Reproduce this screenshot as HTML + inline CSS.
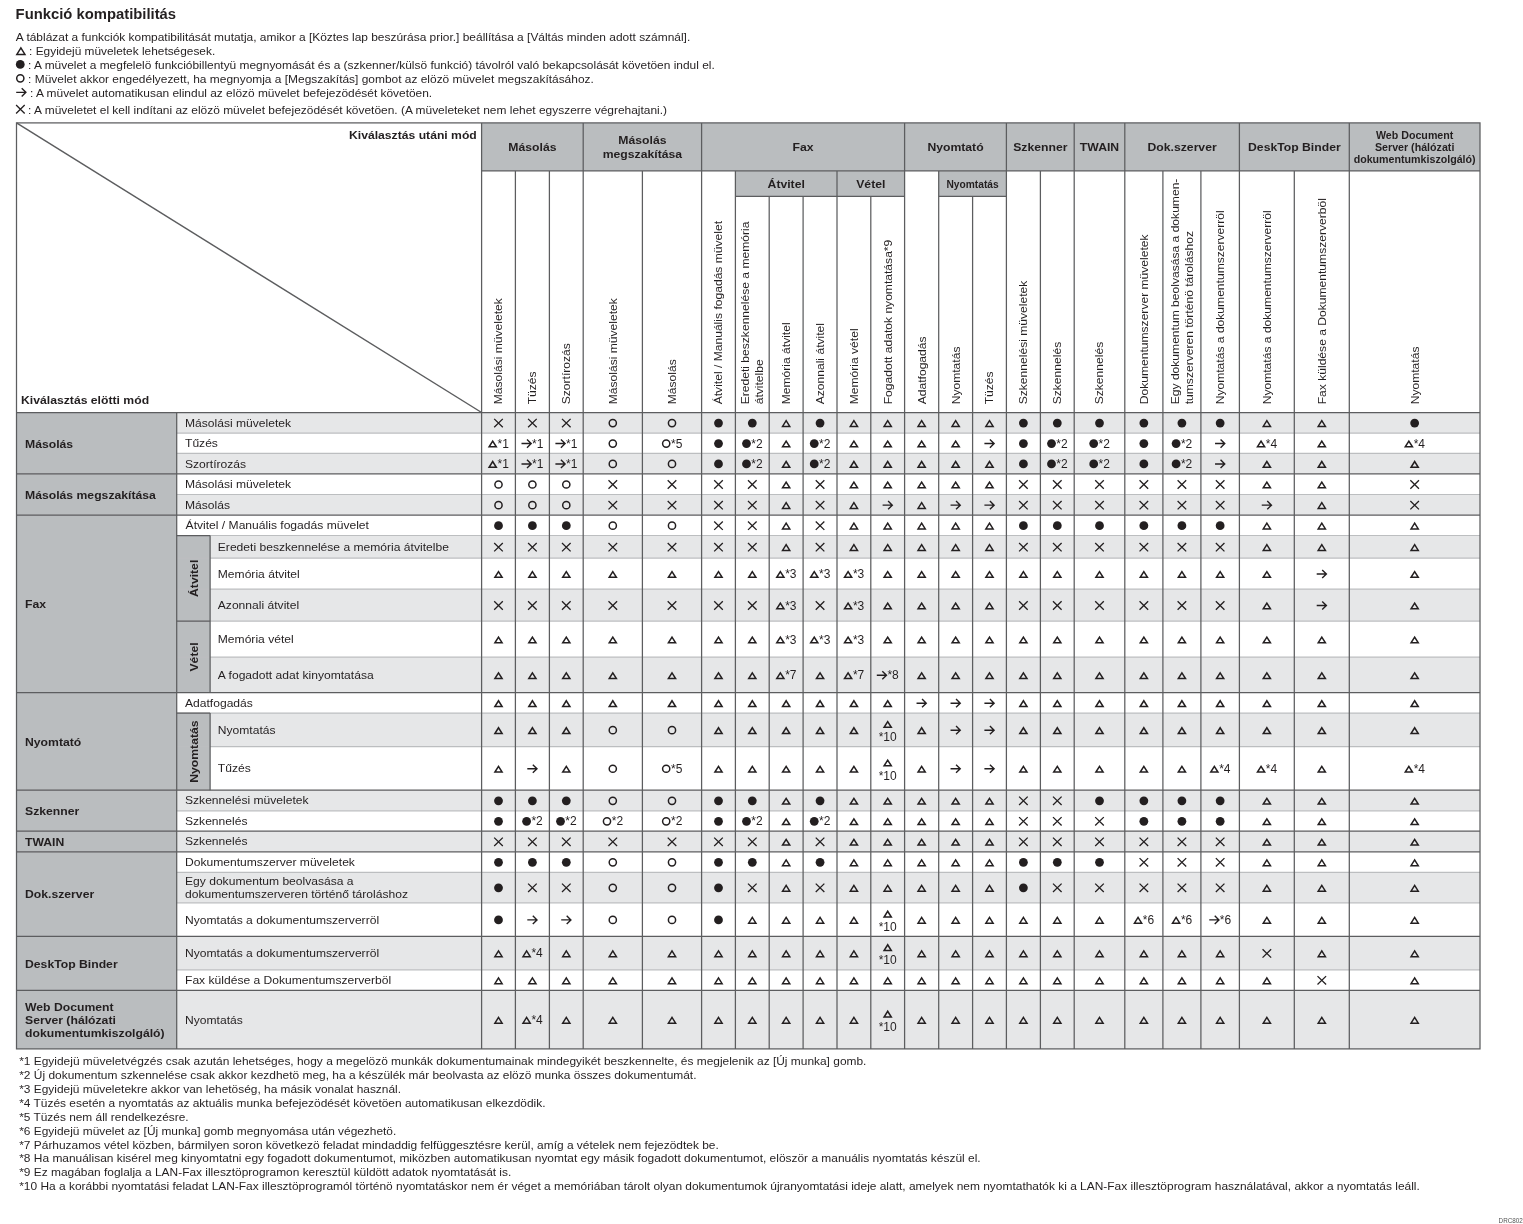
<!DOCTYPE html>
<html><head><meta charset="utf-8"><title>Funkció kompatibilitás</title>
<style>html,body{margin:0;padding:0;background:#fff;}svg{display:block;will-change:transform;}text{font-family:"Liberation Sans",sans-serif;}</style>
</head><body>
<svg width="1523" height="1224" viewBox="0 0 1523 1224" font-family="Liberation Sans">
<rect x="0.00" y="0.00" width="1523.00" height="1224.00" fill="#ffffff"/>
<text transform="translate(15.60,18.90)" font-size="14" font-weight="bold" text-anchor="start" textLength="160.5" lengthAdjust="spacingAndGlyphs" fill="#231f20">Funkció kompatibilitás</text>
<text transform="translate(15.80,40.80)" font-size="11" text-anchor="start" textLength="674.4" lengthAdjust="spacingAndGlyphs" fill="#231f20">A táblázat a funkciók kompatibilitását mutatja, amikor a [Köztes lap beszúrása prior.] beállítása a [Váltás minden adott számnál].</text>
<path d="M16.87,54.40 L24.93,54.40 L20.90,47.96 Z" fill="none" stroke="#231f20" stroke-width="1.5" stroke-linejoin="miter"/>
<text transform="translate(29.10,55.00)" font-size="11" text-anchor="start" textLength="186.1" lengthAdjust="spacingAndGlyphs" fill="#231f20">: Egyidejü müveletek lehetségesek.</text>
<circle cx="20.25" cy="64.40" r="4.40" fill="#231f20"/>
<text transform="translate(28.10,68.80)" font-size="11" text-anchor="start" textLength="686.7" lengthAdjust="spacingAndGlyphs" fill="#231f20">: A müvelet a megfelelö funkcióbillentyü megnyomását és a (szkenner/külsö funkció) távolról való bekapcsolását követöen indul el.</text>
<circle cx="20.30" cy="78.30" r="3.60" fill="none" stroke="#231f20" stroke-width="1.5"/>
<text transform="translate(28.10,82.70)" font-size="11" text-anchor="start" textLength="565.7" lengthAdjust="spacingAndGlyphs" fill="#231f20">: Müvelet akkor engedélyezett, ha megnyomja a [Megszakítás] gombot az elözö müvelet megszakításához.</text>
<path d="M16.20,92.35 L25.60,92.35 M21.70,88.25 L25.90,92.35 L21.70,96.45" stroke="#231f20" stroke-width="1.4" fill="none"/>
<text transform="translate(30.00,96.60)" font-size="11" text-anchor="start" textLength="402.2" lengthAdjust="spacingAndGlyphs" fill="#231f20">: A müvelet automatikusan elindul az elözö müvelet befejezödését követöen.</text>
<path d="M16.10,105.05 L24.70,113.45 M24.70,105.05 L16.10,113.45" stroke="#231f20" stroke-width="1.3" fill="none"/>
<text transform="translate(28.10,113.50)" font-size="11" text-anchor="start" textLength="638.9" lengthAdjust="spacingAndGlyphs" fill="#231f20">: A müveletet el kell indítani az elözö müvelet befejezödését követöen. (A müveleteket nem lehet egyszerre végrehajtani.)</text>
<rect x="481.60" y="122.90" width="998.40" height="48.00" fill="#babdbf"/>
<rect x="735.40" y="170.90" width="101.60" height="25.40" fill="#babdbf"/>
<rect x="837.00" y="170.90" width="67.60" height="25.40" fill="#babdbf"/>
<rect x="938.70" y="170.90" width="67.70" height="25.40" fill="#babdbf"/>
<rect x="176.70" y="412.50" width="1303.30" height="20.60" fill="#e6e7e8"/>
<rect x="176.70" y="433.10" width="1303.30" height="20.30" fill="#ffffff"/>
<rect x="176.70" y="453.40" width="1303.30" height="20.50" fill="#e6e7e8"/>
<rect x="176.70" y="473.90" width="1303.30" height="20.60" fill="#ffffff"/>
<rect x="176.70" y="494.50" width="1303.30" height="20.70" fill="#e6e7e8"/>
<rect x="176.70" y="515.20" width="1303.30" height="20.30" fill="#ffffff"/>
<rect x="176.70" y="535.50" width="1303.30" height="22.70" fill="#e6e7e8"/>
<rect x="176.70" y="558.20" width="1303.30" height="31.00" fill="#ffffff"/>
<rect x="176.70" y="589.20" width="1303.30" height="32.00" fill="#e6e7e8"/>
<rect x="176.70" y="621.20" width="1303.30" height="36.00" fill="#ffffff"/>
<rect x="176.70" y="657.20" width="1303.30" height="35.50" fill="#e6e7e8"/>
<rect x="176.70" y="692.70" width="1303.30" height="20.40" fill="#ffffff"/>
<rect x="176.70" y="713.10" width="1303.30" height="33.60" fill="#e6e7e8"/>
<rect x="176.70" y="746.70" width="1303.30" height="43.50" fill="#ffffff"/>
<rect x="176.70" y="790.20" width="1303.30" height="20.60" fill="#e6e7e8"/>
<rect x="176.70" y="810.80" width="1303.30" height="20.40" fill="#ffffff"/>
<rect x="176.70" y="831.20" width="1303.30" height="20.60" fill="#e6e7e8"/>
<rect x="176.70" y="851.80" width="1303.30" height="20.50" fill="#ffffff"/>
<rect x="176.70" y="872.30" width="1303.30" height="30.50" fill="#e6e7e8"/>
<rect x="176.70" y="902.80" width="1303.30" height="33.60" fill="#ffffff"/>
<rect x="176.70" y="936.40" width="1303.30" height="33.40" fill="#e6e7e8"/>
<rect x="176.70" y="969.80" width="1303.30" height="20.50" fill="#ffffff"/>
<rect x="176.70" y="990.30" width="1303.30" height="58.60" fill="#e6e7e8"/>
<rect x="16.50" y="412.50" width="160.20" height="636.40" fill="#babdbf"/>
<rect x="176.70" y="535.50" width="33.40" height="157.20" fill="#babdbf"/>
<rect x="176.70" y="713.10" width="33.40" height="77.10" fill="#babdbf"/>
<line x1="176.70" y1="433.10" x2="1480.00" y2="433.10" stroke="#bcbec0" stroke-width="1.2"/>
<line x1="176.70" y1="453.40" x2="1480.00" y2="453.40" stroke="#bcbec0" stroke-width="1.2"/>
<line x1="176.70" y1="494.50" x2="1480.00" y2="494.50" stroke="#bcbec0" stroke-width="1.2"/>
<line x1="176.70" y1="535.50" x2="1480.00" y2="535.50" stroke="#bcbec0" stroke-width="1.2"/>
<line x1="176.70" y1="558.20" x2="1480.00" y2="558.20" stroke="#bcbec0" stroke-width="1.2"/>
<line x1="176.70" y1="589.20" x2="1480.00" y2="589.20" stroke="#bcbec0" stroke-width="1.2"/>
<line x1="176.70" y1="621.20" x2="1480.00" y2="621.20" stroke="#bcbec0" stroke-width="1.2"/>
<line x1="176.70" y1="657.20" x2="1480.00" y2="657.20" stroke="#bcbec0" stroke-width="1.2"/>
<line x1="176.70" y1="713.10" x2="1480.00" y2="713.10" stroke="#bcbec0" stroke-width="1.2"/>
<line x1="176.70" y1="746.70" x2="1480.00" y2="746.70" stroke="#bcbec0" stroke-width="1.2"/>
<line x1="176.70" y1="810.80" x2="1480.00" y2="810.80" stroke="#bcbec0" stroke-width="1.2"/>
<line x1="176.70" y1="872.30" x2="1480.00" y2="872.30" stroke="#bcbec0" stroke-width="1.2"/>
<line x1="176.70" y1="902.80" x2="1480.00" y2="902.80" stroke="#bcbec0" stroke-width="1.2"/>
<line x1="176.70" y1="969.80" x2="1480.00" y2="969.80" stroke="#bcbec0" stroke-width="1.2"/>
<line x1="16.50" y1="473.90" x2="1480.00" y2="473.90" stroke="#5c5d5f" stroke-width="1.25"/>
<line x1="16.50" y1="515.20" x2="1480.00" y2="515.20" stroke="#5c5d5f" stroke-width="1.25"/>
<line x1="16.50" y1="692.70" x2="1480.00" y2="692.70" stroke="#5c5d5f" stroke-width="1.25"/>
<line x1="16.50" y1="790.20" x2="1480.00" y2="790.20" stroke="#5c5d5f" stroke-width="1.25"/>
<line x1="16.50" y1="831.20" x2="1480.00" y2="831.20" stroke="#5c5d5f" stroke-width="1.25"/>
<line x1="16.50" y1="851.80" x2="1480.00" y2="851.80" stroke="#5c5d5f" stroke-width="1.25"/>
<line x1="16.50" y1="936.40" x2="1480.00" y2="936.40" stroke="#5c5d5f" stroke-width="1.25"/>
<line x1="16.50" y1="990.30" x2="1480.00" y2="990.30" stroke="#5c5d5f" stroke-width="1.25"/>
<line x1="176.70" y1="621.20" x2="210.10" y2="621.20" stroke="#5c5d5f" stroke-width="1.25"/>
<line x1="176.70" y1="535.50" x2="210.10" y2="535.50" stroke="#5c5d5f" stroke-width="1.25"/>
<line x1="176.70" y1="713.10" x2="210.10" y2="713.10" stroke="#5c5d5f" stroke-width="1.25"/>
<line x1="481.60" y1="170.90" x2="1480.00" y2="170.90" stroke="#5c5d5f" stroke-width="1.25"/>
<line x1="735.40" y1="196.30" x2="904.60" y2="196.30" stroke="#5c5d5f" stroke-width="1.25"/>
<line x1="938.70" y1="196.30" x2="1006.40" y2="196.30" stroke="#5c5d5f" stroke-width="1.25"/>
<line x1="16.50" y1="412.50" x2="1480.00" y2="412.50" stroke="#5c5d5f" stroke-width="1.25"/>
<line x1="481.60" y1="122.90" x2="481.60" y2="1048.90" stroke="#5c5d5f" stroke-width="1.25"/>
<line x1="515.40" y1="170.90" x2="515.40" y2="1048.90" stroke="#5c5d5f" stroke-width="1.25"/>
<line x1="549.40" y1="170.90" x2="549.40" y2="1048.90" stroke="#5c5d5f" stroke-width="1.25"/>
<line x1="583.20" y1="122.90" x2="583.20" y2="1048.90" stroke="#5c5d5f" stroke-width="1.25"/>
<line x1="642.40" y1="170.90" x2="642.40" y2="1048.90" stroke="#5c5d5f" stroke-width="1.25"/>
<line x1="701.60" y1="122.90" x2="701.60" y2="1048.90" stroke="#5c5d5f" stroke-width="1.25"/>
<line x1="735.40" y1="170.90" x2="735.40" y2="1048.90" stroke="#5c5d5f" stroke-width="1.25"/>
<line x1="769.20" y1="196.30" x2="769.20" y2="1048.90" stroke="#5c5d5f" stroke-width="1.25"/>
<line x1="803.10" y1="196.30" x2="803.10" y2="1048.90" stroke="#5c5d5f" stroke-width="1.25"/>
<line x1="837.00" y1="170.90" x2="837.00" y2="1048.90" stroke="#5c5d5f" stroke-width="1.25"/>
<line x1="870.80" y1="196.30" x2="870.80" y2="1048.90" stroke="#5c5d5f" stroke-width="1.25"/>
<line x1="904.60" y1="122.90" x2="904.60" y2="1048.90" stroke="#5c5d5f" stroke-width="1.25"/>
<line x1="938.70" y1="170.90" x2="938.70" y2="1048.90" stroke="#5c5d5f" stroke-width="1.25"/>
<line x1="972.60" y1="196.30" x2="972.60" y2="1048.90" stroke="#5c5d5f" stroke-width="1.25"/>
<line x1="1006.40" y1="122.90" x2="1006.40" y2="1048.90" stroke="#5c5d5f" stroke-width="1.25"/>
<line x1="1040.40" y1="170.90" x2="1040.40" y2="1048.90" stroke="#5c5d5f" stroke-width="1.25"/>
<line x1="1074.20" y1="122.90" x2="1074.20" y2="1048.90" stroke="#5c5d5f" stroke-width="1.25"/>
<line x1="1124.80" y1="122.90" x2="1124.80" y2="1048.90" stroke="#5c5d5f" stroke-width="1.25"/>
<line x1="1162.90" y1="170.90" x2="1162.90" y2="1048.90" stroke="#5c5d5f" stroke-width="1.25"/>
<line x1="1200.90" y1="170.90" x2="1200.90" y2="1048.90" stroke="#5c5d5f" stroke-width="1.25"/>
<line x1="1239.40" y1="122.90" x2="1239.40" y2="1048.90" stroke="#5c5d5f" stroke-width="1.25"/>
<line x1="1294.30" y1="170.90" x2="1294.30" y2="1048.90" stroke="#5c5d5f" stroke-width="1.25"/>
<line x1="1349.30" y1="122.90" x2="1349.30" y2="1048.90" stroke="#5c5d5f" stroke-width="1.25"/>
<line x1="176.70" y1="412.50" x2="176.70" y2="1048.90" stroke="#5c5d5f" stroke-width="1.25"/>
<line x1="210.10" y1="535.50" x2="210.10" y2="692.70" stroke="#5c5d5f" stroke-width="1.25"/>
<line x1="210.10" y1="713.10" x2="210.10" y2="790.20" stroke="#5c5d5f" stroke-width="1.25"/>
<line x1="16.50" y1="122.90" x2="481.60" y2="412.50" stroke="#5c5d5f" stroke-width="1.45"/>
<rect x="16.50" y="122.90" width="1463.50" height="926.00" fill="none" stroke="#5c5d5f" stroke-width="1.25"/>
<text transform="translate(476.80,139.40) scale(1.1070,1)" font-size="11" font-weight="bold" text-anchor="end" fill="#231f20">Kiválasztás utáni mód</text>
<text transform="translate(21.00,403.80) scale(1.1100,1)" font-size="11" font-weight="bold" text-anchor="start" fill="#231f20">Kiválasztás elötti mód</text>
<text transform="translate(532.40,151.10) scale(1.1100,1)" font-size="11" font-weight="bold" text-anchor="middle" fill="#231f20">Másolás</text>
<text transform="translate(642.40,144.30) scale(1.1100,1)" font-size="11" font-weight="bold" text-anchor="middle" fill="#231f20">Másolás</text>
<text transform="translate(642.40,157.70) scale(1.1100,1)" font-size="11" font-weight="bold" text-anchor="middle" fill="#231f20">megszakítása</text>
<text transform="translate(803.10,151.10) scale(1.1100,1)" font-size="11" font-weight="bold" text-anchor="middle" fill="#231f20">Fax</text>
<text transform="translate(955.50,151.10) scale(1.1100,1)" font-size="11" font-weight="bold" text-anchor="middle" fill="#231f20">Nyomtató</text>
<text transform="translate(1040.30,151.10) scale(1.1100,1)" font-size="11" font-weight="bold" text-anchor="middle" fill="#231f20">Szkenner</text>
<text transform="translate(1099.50,151.10) scale(1.1100,1)" font-size="11" font-weight="bold" text-anchor="middle" fill="#231f20">TWAIN</text>
<text transform="translate(1182.10,151.10) scale(1.1100,1)" font-size="11" font-weight="bold" text-anchor="middle" fill="#231f20">Dok.szerver</text>
<text transform="translate(1294.35,151.10) scale(1.1100,1)" font-size="11" font-weight="bold" text-anchor="middle" fill="#231f20">DeskTop Binder</text>
<text transform="translate(1414.65,138.80) scale(1.0670,1)" font-size="10" font-weight="bold" text-anchor="middle" fill="#231f20">Web Document</text>
<text transform="translate(1414.65,150.80) scale(1.0670,1)" font-size="10" font-weight="bold" text-anchor="middle" fill="#231f20">Server (hálózati</text>
<text transform="translate(1414.65,162.60) scale(1.0670,1)" font-size="10" font-weight="bold" text-anchor="middle" fill="#231f20">dokumentumkiszolgáló)</text>
<text transform="translate(786.20,187.70) scale(1.1100,1)" font-size="11" font-weight="bold" text-anchor="middle" fill="#231f20">Átvitel</text>
<text transform="translate(870.80,187.70) scale(1.1100,1)" font-size="11" font-weight="bold" text-anchor="middle" fill="#231f20">Vétel</text>
<text transform="translate(972.55,187.80) scale(1.0200,1)" font-size="10" font-weight="bold" text-anchor="middle" fill="#231f20">Nyomtatás</text>
<text transform="translate(502.35,404.30) rotate(-90) scale(1.1000,1)" font-size="11" text-anchor="start" fill="#231f20">Másolási müveletek</text>
<text transform="translate(536.25,404.30) rotate(-90) scale(1.1000,1)" font-size="11" text-anchor="start" fill="#231f20">Tüzés</text>
<text transform="translate(570.15,404.30) rotate(-90) scale(1.1000,1)" font-size="11" text-anchor="start" fill="#231f20">Szortírozás</text>
<text transform="translate(616.65,404.30) rotate(-90) scale(1.1000,1)" font-size="11" text-anchor="start" fill="#231f20">Másolási müveletek</text>
<text transform="translate(675.85,404.30) rotate(-90) scale(1.1000,1)" font-size="11" text-anchor="start" fill="#231f20">Másolás</text>
<text transform="translate(722.35,404.30) rotate(-90) scale(1.1000,1)" font-size="11" text-anchor="start" fill="#231f20">Átvitel / Manuális fogadás müvelet</text>
<text transform="translate(749.25,404.30) rotate(-90) scale(1.1000,1)" font-size="11" text-anchor="start" fill="#231f20">Eredeti beszkennelése a memória</text>
<text transform="translate(763.05,404.30) rotate(-90) scale(1.1000,1)" font-size="11" text-anchor="start" fill="#231f20">átvitelbe</text>
<text transform="translate(790.00,404.30) rotate(-90) scale(1.1000,1)" font-size="11" text-anchor="start" fill="#231f20">Memória átvitel</text>
<text transform="translate(823.90,404.30) rotate(-90) scale(1.1000,1)" font-size="11" text-anchor="start" fill="#231f20">Azonnali átvitel</text>
<text transform="translate(857.75,404.30) rotate(-90) scale(1.1000,1)" font-size="11" text-anchor="start" fill="#231f20">Memória vétel</text>
<text transform="translate(891.55,404.30) rotate(-90) scale(1.1000,1)" font-size="11" text-anchor="start" fill="#231f20">Fogadott adatok nyomtatása*9</text>
<text transform="translate(925.50,404.30) rotate(-90) scale(1.1000,1)" font-size="11" text-anchor="start" fill="#231f20">Adatfogadás</text>
<text transform="translate(959.50,404.30) rotate(-90) scale(1.1000,1)" font-size="11" text-anchor="start" fill="#231f20">Nyomtatás</text>
<text transform="translate(993.35,404.30) rotate(-90) scale(1.1000,1)" font-size="11" text-anchor="start" fill="#231f20">Tüzés</text>
<text transform="translate(1027.25,404.30) rotate(-90) scale(1.1000,1)" font-size="11" text-anchor="start" fill="#231f20">Szkennelési müveletek</text>
<text transform="translate(1061.15,404.30) rotate(-90) scale(1.1000,1)" font-size="11" text-anchor="start" fill="#231f20">Szkennelés</text>
<text transform="translate(1103.35,404.30) rotate(-90) scale(1.1000,1)" font-size="11" text-anchor="start" fill="#231f20">Szkennelés</text>
<text transform="translate(1147.70,404.30) rotate(-90) scale(1.1000,1)" font-size="11" text-anchor="start" fill="#231f20">Dokumentumszerver müveletek</text>
<text transform="translate(1178.85,404.30) rotate(-90) scale(1.1000,1)" font-size="11" text-anchor="start" fill="#231f20">Egy dokumentum beolvasása a dokumen-</text>
<text transform="translate(1192.65,404.30) rotate(-90) scale(1.1000,1)" font-size="11" text-anchor="start" fill="#231f20">tumszerveren történö tároláshoz</text>
<text transform="translate(1224.00,404.30) rotate(-90) scale(1.1000,1)" font-size="11" text-anchor="start" fill="#231f20">Nyomtatás a dokumentumszerverröl</text>
<text transform="translate(1270.70,404.30) rotate(-90) scale(1.1000,1)" font-size="11" text-anchor="start" fill="#231f20">Nyomtatás a dokumentumszerverröl</text>
<text transform="translate(1325.65,404.30) rotate(-90) scale(1.1000,1)" font-size="11" text-anchor="start" fill="#231f20">Fax küldése a Dokumentumszerverböl</text>
<text transform="translate(1418.50,404.30) rotate(-90) scale(1.1000,1)" font-size="11" text-anchor="start" fill="#231f20">Nyomtatás</text>
<text transform="translate(25.00,447.50) scale(1.1100,1)" font-size="11" font-weight="bold" text-anchor="start" fill="#231f20">Másolás</text>
<text transform="translate(25.00,498.85) scale(1.1100,1)" font-size="11" font-weight="bold" text-anchor="start" fill="#231f20">Másolás megszakítása</text>
<text transform="translate(25.00,608.25) scale(1.1100,1)" font-size="11" font-weight="bold" text-anchor="start" fill="#231f20">Fax</text>
<text transform="translate(25.00,745.75) scale(1.1100,1)" font-size="11" font-weight="bold" text-anchor="start" fill="#231f20">Nyomtató</text>
<text transform="translate(25.00,815.00) scale(1.1100,1)" font-size="11" font-weight="bold" text-anchor="start" fill="#231f20">Szkenner</text>
<text transform="translate(25.00,845.80) scale(1.1100,1)" font-size="11" font-weight="bold" text-anchor="start" fill="#231f20">TWAIN</text>
<text transform="translate(25.00,898.40) scale(1.1100,1)" font-size="11" font-weight="bold" text-anchor="start" fill="#231f20">Dok.szerver</text>
<text transform="translate(25.00,967.65) scale(1.1100,1)" font-size="11" font-weight="bold" text-anchor="start" fill="#231f20">DeskTop Binder</text>
<text transform="translate(25.00,1011.40) scale(1.1100,1)" font-size="11" font-weight="bold" text-anchor="start" fill="#231f20">Web Document</text>
<text transform="translate(25.00,1024.30) scale(1.1100,1)" font-size="11" font-weight="bold" text-anchor="start" fill="#231f20">Server (hálózati</text>
<text transform="translate(25.00,1037.20) scale(1.1100,1)" font-size="11" font-weight="bold" text-anchor="start" fill="#231f20">dokumentumkiszolgáló)</text>
<text transform="translate(197.70,578.35) rotate(-90) scale(1.1100,1)" font-size="11" font-weight="bold" text-anchor="middle" fill="#231f20">Átvitel</text>
<text transform="translate(197.70,656.95) rotate(-90) scale(1.1100,1)" font-size="11" font-weight="bold" text-anchor="middle" fill="#231f20">Vétel</text>
<text transform="translate(197.70,751.65) rotate(-90) scale(1.1100,1)" font-size="11" font-weight="bold" text-anchor="middle" fill="#231f20">Nyomtatás</text>
<text transform="translate(185.00,426.70) scale(1.1000,1)" font-size="11" text-anchor="start" fill="#231f20">Másolási müveletek</text>
<text transform="translate(185.00,447.15) scale(1.1000,1)" font-size="11" text-anchor="start" fill="#231f20">Tűzés</text>
<text transform="translate(185.00,467.55) scale(1.1000,1)" font-size="11" text-anchor="start" fill="#231f20">Szortírozás</text>
<text transform="translate(185.00,488.10) scale(1.1000,1)" font-size="11" text-anchor="start" fill="#231f20">Másolási müveletek</text>
<text transform="translate(185.00,508.75) scale(1.1000,1)" font-size="11" text-anchor="start" fill="#231f20">Másolás</text>
<text transform="translate(185.60,529.25) scale(1.1000,1)" font-size="11" text-anchor="start" fill="#231f20">Átvitel / Manuális fogadás müvelet</text>
<text transform="translate(217.80,550.75) scale(1.1000,1)" font-size="11" text-anchor="start" fill="#231f20">Eredeti beszkennelése a memória átvitelbe</text>
<text transform="translate(217.80,577.60) scale(1.1000,1)" font-size="11" text-anchor="start" fill="#231f20">Memória átvitel</text>
<text transform="translate(217.80,609.10) scale(1.1000,1)" font-size="11" text-anchor="start" fill="#231f20">Azonnali átvitel</text>
<text transform="translate(217.80,643.10) scale(1.1000,1)" font-size="11" text-anchor="start" fill="#231f20">Memória vétel</text>
<text transform="translate(217.80,678.85) scale(1.1000,1)" font-size="11" text-anchor="start" fill="#231f20">A fogadott adat kinyomtatása</text>
<text transform="translate(185.00,706.80) scale(1.1000,1)" font-size="11" text-anchor="start" fill="#231f20">Adatfogadás</text>
<text transform="translate(217.80,733.80) scale(1.1000,1)" font-size="11" text-anchor="start" fill="#231f20">Nyomtatás</text>
<text transform="translate(217.80,772.35) scale(1.1000,1)" font-size="11" text-anchor="start" fill="#231f20">Tűzés</text>
<text transform="translate(185.00,804.40) scale(1.1000,1)" font-size="11" text-anchor="start" fill="#231f20">Szkennelési müveletek</text>
<text transform="translate(185.00,824.90) scale(1.1000,1)" font-size="11" text-anchor="start" fill="#231f20">Szkennelés</text>
<text transform="translate(185.00,845.40) scale(1.1000,1)" font-size="11" text-anchor="start" fill="#231f20">Szkennelés</text>
<text transform="translate(185.00,865.95) scale(1.1000,1)" font-size="11" text-anchor="start" fill="#231f20">Dokumentumszerver müveletek</text>
<text transform="translate(185.00,884.65) scale(1.1000,1)" font-size="11" text-anchor="start" fill="#231f20">Egy dokumentum beolvasása a</text>
<text transform="translate(185.00,898.25) scale(1.1000,1)" font-size="11" text-anchor="start" fill="#231f20">dokumentumszerveren történő tároláshoz</text>
<text transform="translate(185.00,923.50) scale(1.1000,1)" font-size="11" text-anchor="start" fill="#231f20">Nyomtatás a dokumentumszerverröl</text>
<text transform="translate(185.00,957.00) scale(1.1000,1)" font-size="11" text-anchor="start" fill="#231f20">Nyomtatás a dokumentumszerverröl</text>
<text transform="translate(185.00,983.95) scale(1.1000,1)" font-size="11" text-anchor="start" fill="#231f20">Fax küldése a Dokumentumszerverböl</text>
<text transform="translate(185.00,1023.50) scale(1.1000,1)" font-size="11" text-anchor="start" fill="#231f20">Nyomtatás</text>
<path d="M494.20,418.90 L502.80,427.30 M502.80,418.90 L494.20,427.30" stroke="#231f20" stroke-width="1.3" fill="none"/>
<path d="M528.10,418.90 L536.70,427.30 M536.70,418.90 L528.10,427.30" stroke="#231f20" stroke-width="1.3" fill="none"/>
<path d="M562.00,418.90 L570.60,427.30 M570.60,418.90 L562.00,427.30" stroke="#231f20" stroke-width="1.3" fill="none"/>
<circle cx="612.80" cy="423.10" r="3.60" fill="none" stroke="#231f20" stroke-width="1.5"/>
<circle cx="672.00" cy="423.10" r="3.60" fill="none" stroke="#231f20" stroke-width="1.5"/>
<circle cx="718.50" cy="423.10" r="4.40" fill="#231f20"/>
<circle cx="752.30" cy="423.10" r="4.40" fill="#231f20"/>
<path d="M782.55,426.40 L789.75,426.40 L786.15,420.65 Z" fill="none" stroke="#231f20" stroke-width="1.5" stroke-linejoin="miter"/>
<circle cx="820.05" cy="423.10" r="4.40" fill="#231f20"/>
<path d="M850.30,426.40 L857.50,426.40 L853.90,420.65 Z" fill="none" stroke="#231f20" stroke-width="1.5" stroke-linejoin="miter"/>
<path d="M884.10,426.40 L891.30,426.40 L887.70,420.65 Z" fill="none" stroke="#231f20" stroke-width="1.5" stroke-linejoin="miter"/>
<path d="M918.05,426.40 L925.25,426.40 L921.65,420.65 Z" fill="none" stroke="#231f20" stroke-width="1.5" stroke-linejoin="miter"/>
<path d="M952.05,426.40 L959.25,426.40 L955.65,420.65 Z" fill="none" stroke="#231f20" stroke-width="1.5" stroke-linejoin="miter"/>
<path d="M985.90,426.40 L993.10,426.40 L989.50,420.65 Z" fill="none" stroke="#231f20" stroke-width="1.5" stroke-linejoin="miter"/>
<circle cx="1023.40" cy="423.10" r="4.40" fill="#231f20"/>
<circle cx="1057.30" cy="423.10" r="4.40" fill="#231f20"/>
<circle cx="1099.50" cy="423.10" r="4.40" fill="#231f20"/>
<circle cx="1143.85" cy="423.10" r="4.40" fill="#231f20"/>
<circle cx="1181.90" cy="423.10" r="4.40" fill="#231f20"/>
<circle cx="1220.15" cy="423.10" r="4.40" fill="#231f20"/>
<path d="M1263.25,426.40 L1270.45,426.40 L1266.85,420.65 Z" fill="none" stroke="#231f20" stroke-width="1.5" stroke-linejoin="miter"/>
<path d="M1318.20,426.40 L1325.40,426.40 L1321.80,420.65 Z" fill="none" stroke="#231f20" stroke-width="1.5" stroke-linejoin="miter"/>
<circle cx="1414.65" cy="423.10" r="4.40" fill="#231f20"/>
<path d="M489.10,446.85 L496.30,446.85 L492.70,441.10 Z" fill="none" stroke="#231f20" stroke-width="1.5" stroke-linejoin="miter"/>
<text transform="translate(497.50,447.55)" font-size="12" text-anchor="start" fill="#231f20">*1</text>
<path d="M521.50,443.55 L530.90,443.55 M527.00,439.45 L531.20,443.55 L527.00,447.65" stroke="#231f20" stroke-width="1.4" fill="none"/>
<text transform="translate(532.10,447.55)" font-size="12" text-anchor="start" fill="#231f20">*1</text>
<path d="M555.40,443.55 L564.80,443.55 M560.90,439.45 L565.10,443.55 L560.90,447.65" stroke="#231f20" stroke-width="1.4" fill="none"/>
<text transform="translate(566.00,447.55)" font-size="12" text-anchor="start" fill="#231f20">*1</text>
<circle cx="612.80" cy="443.55" r="3.60" fill="none" stroke="#231f20" stroke-width="1.5"/>
<circle cx="666.20" cy="443.55" r="3.60" fill="none" stroke="#231f20" stroke-width="1.5"/>
<text transform="translate(671.00,447.55)" font-size="12" text-anchor="start" fill="#231f20">*5</text>
<circle cx="718.50" cy="443.55" r="4.40" fill="#231f20"/>
<circle cx="746.50" cy="443.55" r="4.40" fill="#231f20"/>
<text transform="translate(751.30,447.55)" font-size="12" text-anchor="start" fill="#231f20">*2</text>
<path d="M782.55,446.85 L789.75,446.85 L786.15,441.10 Z" fill="none" stroke="#231f20" stroke-width="1.5" stroke-linejoin="miter"/>
<circle cx="814.25" cy="443.55" r="4.40" fill="#231f20"/>
<text transform="translate(819.05,447.55)" font-size="12" text-anchor="start" fill="#231f20">*2</text>
<path d="M850.30,446.85 L857.50,446.85 L853.90,441.10 Z" fill="none" stroke="#231f20" stroke-width="1.5" stroke-linejoin="miter"/>
<path d="M884.10,446.85 L891.30,446.85 L887.70,441.10 Z" fill="none" stroke="#231f20" stroke-width="1.5" stroke-linejoin="miter"/>
<path d="M918.05,446.85 L925.25,446.85 L921.65,441.10 Z" fill="none" stroke="#231f20" stroke-width="1.5" stroke-linejoin="miter"/>
<path d="M952.05,446.85 L959.25,446.85 L955.65,441.10 Z" fill="none" stroke="#231f20" stroke-width="1.5" stroke-linejoin="miter"/>
<path d="M984.40,443.55 L993.80,443.55 M989.90,439.45 L994.10,443.55 L989.90,447.65" stroke="#231f20" stroke-width="1.4" fill="none"/>
<circle cx="1023.40" cy="443.55" r="4.40" fill="#231f20"/>
<circle cx="1051.50" cy="443.55" r="4.40" fill="#231f20"/>
<text transform="translate(1056.30,447.55)" font-size="12" text-anchor="start" fill="#231f20">*2</text>
<circle cx="1093.70" cy="443.55" r="4.40" fill="#231f20"/>
<text transform="translate(1098.50,447.55)" font-size="12" text-anchor="start" fill="#231f20">*2</text>
<circle cx="1143.85" cy="443.55" r="4.40" fill="#231f20"/>
<circle cx="1176.10" cy="443.55" r="4.40" fill="#231f20"/>
<text transform="translate(1180.90,447.55)" font-size="12" text-anchor="start" fill="#231f20">*2</text>
<path d="M1215.05,443.55 L1224.45,443.55 M1220.55,439.45 L1224.75,443.55 L1220.55,447.65" stroke="#231f20" stroke-width="1.4" fill="none"/>
<path d="M1257.45,446.85 L1264.65,446.85 L1261.05,441.10 Z" fill="none" stroke="#231f20" stroke-width="1.5" stroke-linejoin="miter"/>
<text transform="translate(1265.85,447.55)" font-size="12" text-anchor="start" fill="#231f20">*4</text>
<path d="M1318.20,446.85 L1325.40,446.85 L1321.80,441.10 Z" fill="none" stroke="#231f20" stroke-width="1.5" stroke-linejoin="miter"/>
<path d="M1405.25,446.85 L1412.45,446.85 L1408.85,441.10 Z" fill="none" stroke="#231f20" stroke-width="1.5" stroke-linejoin="miter"/>
<text transform="translate(1413.65,447.55)" font-size="12" text-anchor="start" fill="#231f20">*4</text>
<path d="M489.10,467.25 L496.30,467.25 L492.70,461.50 Z" fill="none" stroke="#231f20" stroke-width="1.5" stroke-linejoin="miter"/>
<text transform="translate(497.50,467.95)" font-size="12" text-anchor="start" fill="#231f20">*1</text>
<path d="M521.50,463.95 L530.90,463.95 M527.00,459.85 L531.20,463.95 L527.00,468.05" stroke="#231f20" stroke-width="1.4" fill="none"/>
<text transform="translate(532.10,467.95)" font-size="12" text-anchor="start" fill="#231f20">*1</text>
<path d="M555.40,463.95 L564.80,463.95 M560.90,459.85 L565.10,463.95 L560.90,468.05" stroke="#231f20" stroke-width="1.4" fill="none"/>
<text transform="translate(566.00,467.95)" font-size="12" text-anchor="start" fill="#231f20">*1</text>
<circle cx="612.80" cy="463.95" r="3.60" fill="none" stroke="#231f20" stroke-width="1.5"/>
<circle cx="672.00" cy="463.95" r="3.60" fill="none" stroke="#231f20" stroke-width="1.5"/>
<circle cx="718.50" cy="463.95" r="4.40" fill="#231f20"/>
<circle cx="746.50" cy="463.95" r="4.40" fill="#231f20"/>
<text transform="translate(751.30,467.95)" font-size="12" text-anchor="start" fill="#231f20">*2</text>
<path d="M782.55,467.25 L789.75,467.25 L786.15,461.50 Z" fill="none" stroke="#231f20" stroke-width="1.5" stroke-linejoin="miter"/>
<circle cx="814.25" cy="463.95" r="4.40" fill="#231f20"/>
<text transform="translate(819.05,467.95)" font-size="12" text-anchor="start" fill="#231f20">*2</text>
<path d="M850.30,467.25 L857.50,467.25 L853.90,461.50 Z" fill="none" stroke="#231f20" stroke-width="1.5" stroke-linejoin="miter"/>
<path d="M884.10,467.25 L891.30,467.25 L887.70,461.50 Z" fill="none" stroke="#231f20" stroke-width="1.5" stroke-linejoin="miter"/>
<path d="M918.05,467.25 L925.25,467.25 L921.65,461.50 Z" fill="none" stroke="#231f20" stroke-width="1.5" stroke-linejoin="miter"/>
<path d="M952.05,467.25 L959.25,467.25 L955.65,461.50 Z" fill="none" stroke="#231f20" stroke-width="1.5" stroke-linejoin="miter"/>
<path d="M985.90,467.25 L993.10,467.25 L989.50,461.50 Z" fill="none" stroke="#231f20" stroke-width="1.5" stroke-linejoin="miter"/>
<circle cx="1023.40" cy="463.95" r="4.40" fill="#231f20"/>
<circle cx="1051.50" cy="463.95" r="4.40" fill="#231f20"/>
<text transform="translate(1056.30,467.95)" font-size="12" text-anchor="start" fill="#231f20">*2</text>
<circle cx="1093.70" cy="463.95" r="4.40" fill="#231f20"/>
<text transform="translate(1098.50,467.95)" font-size="12" text-anchor="start" fill="#231f20">*2</text>
<circle cx="1143.85" cy="463.95" r="4.40" fill="#231f20"/>
<circle cx="1176.10" cy="463.95" r="4.40" fill="#231f20"/>
<text transform="translate(1180.90,467.95)" font-size="12" text-anchor="start" fill="#231f20">*2</text>
<path d="M1215.05,463.95 L1224.45,463.95 M1220.55,459.85 L1224.75,463.95 L1220.55,468.05" stroke="#231f20" stroke-width="1.4" fill="none"/>
<path d="M1263.25,467.25 L1270.45,467.25 L1266.85,461.50 Z" fill="none" stroke="#231f20" stroke-width="1.5" stroke-linejoin="miter"/>
<path d="M1318.20,467.25 L1325.40,467.25 L1321.80,461.50 Z" fill="none" stroke="#231f20" stroke-width="1.5" stroke-linejoin="miter"/>
<path d="M1411.05,467.25 L1418.25,467.25 L1414.65,461.50 Z" fill="none" stroke="#231f20" stroke-width="1.5" stroke-linejoin="miter"/>
<circle cx="498.50" cy="484.50" r="3.60" fill="none" stroke="#231f20" stroke-width="1.5"/>
<circle cx="532.40" cy="484.50" r="3.60" fill="none" stroke="#231f20" stroke-width="1.5"/>
<circle cx="566.30" cy="484.50" r="3.60" fill="none" stroke="#231f20" stroke-width="1.5"/>
<path d="M608.50,480.30 L617.10,488.70 M617.10,480.30 L608.50,488.70" stroke="#231f20" stroke-width="1.3" fill="none"/>
<path d="M667.70,480.30 L676.30,488.70 M676.30,480.30 L667.70,488.70" stroke="#231f20" stroke-width="1.3" fill="none"/>
<path d="M714.20,480.30 L722.80,488.70 M722.80,480.30 L714.20,488.70" stroke="#231f20" stroke-width="1.3" fill="none"/>
<path d="M748.00,480.30 L756.60,488.70 M756.60,480.30 L748.00,488.70" stroke="#231f20" stroke-width="1.3" fill="none"/>
<path d="M782.55,487.80 L789.75,487.80 L786.15,482.05 Z" fill="none" stroke="#231f20" stroke-width="1.5" stroke-linejoin="miter"/>
<path d="M815.75,480.30 L824.35,488.70 M824.35,480.30 L815.75,488.70" stroke="#231f20" stroke-width="1.3" fill="none"/>
<path d="M850.30,487.80 L857.50,487.80 L853.90,482.05 Z" fill="none" stroke="#231f20" stroke-width="1.5" stroke-linejoin="miter"/>
<path d="M884.10,487.80 L891.30,487.80 L887.70,482.05 Z" fill="none" stroke="#231f20" stroke-width="1.5" stroke-linejoin="miter"/>
<path d="M918.05,487.80 L925.25,487.80 L921.65,482.05 Z" fill="none" stroke="#231f20" stroke-width="1.5" stroke-linejoin="miter"/>
<path d="M952.05,487.80 L959.25,487.80 L955.65,482.05 Z" fill="none" stroke="#231f20" stroke-width="1.5" stroke-linejoin="miter"/>
<path d="M985.90,487.80 L993.10,487.80 L989.50,482.05 Z" fill="none" stroke="#231f20" stroke-width="1.5" stroke-linejoin="miter"/>
<path d="M1019.10,480.30 L1027.70,488.70 M1027.70,480.30 L1019.10,488.70" stroke="#231f20" stroke-width="1.3" fill="none"/>
<path d="M1053.00,480.30 L1061.60,488.70 M1061.60,480.30 L1053.00,488.70" stroke="#231f20" stroke-width="1.3" fill="none"/>
<path d="M1095.20,480.30 L1103.80,488.70 M1103.80,480.30 L1095.20,488.70" stroke="#231f20" stroke-width="1.3" fill="none"/>
<path d="M1139.55,480.30 L1148.15,488.70 M1148.15,480.30 L1139.55,488.70" stroke="#231f20" stroke-width="1.3" fill="none"/>
<path d="M1177.60,480.30 L1186.20,488.70 M1186.20,480.30 L1177.60,488.70" stroke="#231f20" stroke-width="1.3" fill="none"/>
<path d="M1215.85,480.30 L1224.45,488.70 M1224.45,480.30 L1215.85,488.70" stroke="#231f20" stroke-width="1.3" fill="none"/>
<path d="M1263.25,487.80 L1270.45,487.80 L1266.85,482.05 Z" fill="none" stroke="#231f20" stroke-width="1.5" stroke-linejoin="miter"/>
<path d="M1318.20,487.80 L1325.40,487.80 L1321.80,482.05 Z" fill="none" stroke="#231f20" stroke-width="1.5" stroke-linejoin="miter"/>
<path d="M1410.35,480.30 L1418.95,488.70 M1418.95,480.30 L1410.35,488.70" stroke="#231f20" stroke-width="1.3" fill="none"/>
<circle cx="498.50" cy="505.15" r="3.60" fill="none" stroke="#231f20" stroke-width="1.5"/>
<circle cx="532.40" cy="505.15" r="3.60" fill="none" stroke="#231f20" stroke-width="1.5"/>
<circle cx="566.30" cy="505.15" r="3.60" fill="none" stroke="#231f20" stroke-width="1.5"/>
<path d="M608.50,500.95 L617.10,509.35 M617.10,500.95 L608.50,509.35" stroke="#231f20" stroke-width="1.3" fill="none"/>
<path d="M667.70,500.95 L676.30,509.35 M676.30,500.95 L667.70,509.35" stroke="#231f20" stroke-width="1.3" fill="none"/>
<path d="M714.20,500.95 L722.80,509.35 M722.80,500.95 L714.20,509.35" stroke="#231f20" stroke-width="1.3" fill="none"/>
<path d="M748.00,500.95 L756.60,509.35 M756.60,500.95 L748.00,509.35" stroke="#231f20" stroke-width="1.3" fill="none"/>
<path d="M782.55,508.45 L789.75,508.45 L786.15,502.70 Z" fill="none" stroke="#231f20" stroke-width="1.5" stroke-linejoin="miter"/>
<path d="M815.75,500.95 L824.35,509.35 M824.35,500.95 L815.75,509.35" stroke="#231f20" stroke-width="1.3" fill="none"/>
<path d="M850.30,508.45 L857.50,508.45 L853.90,502.70 Z" fill="none" stroke="#231f20" stroke-width="1.5" stroke-linejoin="miter"/>
<path d="M882.60,505.15 L892.00,505.15 M888.10,501.05 L892.30,505.15 L888.10,509.25" stroke="#231f20" stroke-width="1.4" fill="none"/>
<path d="M918.05,508.45 L925.25,508.45 L921.65,502.70 Z" fill="none" stroke="#231f20" stroke-width="1.5" stroke-linejoin="miter"/>
<path d="M950.55,505.15 L959.95,505.15 M956.05,501.05 L960.25,505.15 L956.05,509.25" stroke="#231f20" stroke-width="1.4" fill="none"/>
<path d="M984.40,505.15 L993.80,505.15 M989.90,501.05 L994.10,505.15 L989.90,509.25" stroke="#231f20" stroke-width="1.4" fill="none"/>
<path d="M1019.10,500.95 L1027.70,509.35 M1027.70,500.95 L1019.10,509.35" stroke="#231f20" stroke-width="1.3" fill="none"/>
<path d="M1053.00,500.95 L1061.60,509.35 M1061.60,500.95 L1053.00,509.35" stroke="#231f20" stroke-width="1.3" fill="none"/>
<path d="M1095.20,500.95 L1103.80,509.35 M1103.80,500.95 L1095.20,509.35" stroke="#231f20" stroke-width="1.3" fill="none"/>
<path d="M1139.55,500.95 L1148.15,509.35 M1148.15,500.95 L1139.55,509.35" stroke="#231f20" stroke-width="1.3" fill="none"/>
<path d="M1177.60,500.95 L1186.20,509.35 M1186.20,500.95 L1177.60,509.35" stroke="#231f20" stroke-width="1.3" fill="none"/>
<path d="M1215.85,500.95 L1224.45,509.35 M1224.45,500.95 L1215.85,509.35" stroke="#231f20" stroke-width="1.3" fill="none"/>
<path d="M1261.75,505.15 L1271.15,505.15 M1267.25,501.05 L1271.45,505.15 L1267.25,509.25" stroke="#231f20" stroke-width="1.4" fill="none"/>
<path d="M1318.20,508.45 L1325.40,508.45 L1321.80,502.70 Z" fill="none" stroke="#231f20" stroke-width="1.5" stroke-linejoin="miter"/>
<path d="M1410.35,500.95 L1418.95,509.35 M1418.95,500.95 L1410.35,509.35" stroke="#231f20" stroke-width="1.3" fill="none"/>
<circle cx="498.50" cy="525.65" r="4.40" fill="#231f20"/>
<circle cx="532.40" cy="525.65" r="4.40" fill="#231f20"/>
<circle cx="566.30" cy="525.65" r="4.40" fill="#231f20"/>
<circle cx="612.80" cy="525.65" r="3.60" fill="none" stroke="#231f20" stroke-width="1.5"/>
<circle cx="672.00" cy="525.65" r="3.60" fill="none" stroke="#231f20" stroke-width="1.5"/>
<path d="M714.20,521.45 L722.80,529.85 M722.80,521.45 L714.20,529.85" stroke="#231f20" stroke-width="1.3" fill="none"/>
<path d="M748.00,521.45 L756.60,529.85 M756.60,521.45 L748.00,529.85" stroke="#231f20" stroke-width="1.3" fill="none"/>
<path d="M782.55,528.95 L789.75,528.95 L786.15,523.20 Z" fill="none" stroke="#231f20" stroke-width="1.5" stroke-linejoin="miter"/>
<path d="M815.75,521.45 L824.35,529.85 M824.35,521.45 L815.75,529.85" stroke="#231f20" stroke-width="1.3" fill="none"/>
<path d="M850.30,528.95 L857.50,528.95 L853.90,523.20 Z" fill="none" stroke="#231f20" stroke-width="1.5" stroke-linejoin="miter"/>
<path d="M884.10,528.95 L891.30,528.95 L887.70,523.20 Z" fill="none" stroke="#231f20" stroke-width="1.5" stroke-linejoin="miter"/>
<path d="M918.05,528.95 L925.25,528.95 L921.65,523.20 Z" fill="none" stroke="#231f20" stroke-width="1.5" stroke-linejoin="miter"/>
<path d="M952.05,528.95 L959.25,528.95 L955.65,523.20 Z" fill="none" stroke="#231f20" stroke-width="1.5" stroke-linejoin="miter"/>
<path d="M985.90,528.95 L993.10,528.95 L989.50,523.20 Z" fill="none" stroke="#231f20" stroke-width="1.5" stroke-linejoin="miter"/>
<circle cx="1023.40" cy="525.65" r="4.40" fill="#231f20"/>
<circle cx="1057.30" cy="525.65" r="4.40" fill="#231f20"/>
<circle cx="1099.50" cy="525.65" r="4.40" fill="#231f20"/>
<circle cx="1143.85" cy="525.65" r="4.40" fill="#231f20"/>
<circle cx="1181.90" cy="525.65" r="4.40" fill="#231f20"/>
<circle cx="1220.15" cy="525.65" r="4.40" fill="#231f20"/>
<path d="M1263.25,528.95 L1270.45,528.95 L1266.85,523.20 Z" fill="none" stroke="#231f20" stroke-width="1.5" stroke-linejoin="miter"/>
<path d="M1318.20,528.95 L1325.40,528.95 L1321.80,523.20 Z" fill="none" stroke="#231f20" stroke-width="1.5" stroke-linejoin="miter"/>
<path d="M1411.05,528.95 L1418.25,528.95 L1414.65,523.20 Z" fill="none" stroke="#231f20" stroke-width="1.5" stroke-linejoin="miter"/>
<path d="M494.20,542.95 L502.80,551.35 M502.80,542.95 L494.20,551.35" stroke="#231f20" stroke-width="1.3" fill="none"/>
<path d="M528.10,542.95 L536.70,551.35 M536.70,542.95 L528.10,551.35" stroke="#231f20" stroke-width="1.3" fill="none"/>
<path d="M562.00,542.95 L570.60,551.35 M570.60,542.95 L562.00,551.35" stroke="#231f20" stroke-width="1.3" fill="none"/>
<path d="M608.50,542.95 L617.10,551.35 M617.10,542.95 L608.50,551.35" stroke="#231f20" stroke-width="1.3" fill="none"/>
<path d="M667.70,542.95 L676.30,551.35 M676.30,542.95 L667.70,551.35" stroke="#231f20" stroke-width="1.3" fill="none"/>
<path d="M714.20,542.95 L722.80,551.35 M722.80,542.95 L714.20,551.35" stroke="#231f20" stroke-width="1.3" fill="none"/>
<path d="M748.00,542.95 L756.60,551.35 M756.60,542.95 L748.00,551.35" stroke="#231f20" stroke-width="1.3" fill="none"/>
<path d="M782.55,550.45 L789.75,550.45 L786.15,544.70 Z" fill="none" stroke="#231f20" stroke-width="1.5" stroke-linejoin="miter"/>
<path d="M815.75,542.95 L824.35,551.35 M824.35,542.95 L815.75,551.35" stroke="#231f20" stroke-width="1.3" fill="none"/>
<path d="M850.30,550.45 L857.50,550.45 L853.90,544.70 Z" fill="none" stroke="#231f20" stroke-width="1.5" stroke-linejoin="miter"/>
<path d="M884.10,550.45 L891.30,550.45 L887.70,544.70 Z" fill="none" stroke="#231f20" stroke-width="1.5" stroke-linejoin="miter"/>
<path d="M918.05,550.45 L925.25,550.45 L921.65,544.70 Z" fill="none" stroke="#231f20" stroke-width="1.5" stroke-linejoin="miter"/>
<path d="M952.05,550.45 L959.25,550.45 L955.65,544.70 Z" fill="none" stroke="#231f20" stroke-width="1.5" stroke-linejoin="miter"/>
<path d="M985.90,550.45 L993.10,550.45 L989.50,544.70 Z" fill="none" stroke="#231f20" stroke-width="1.5" stroke-linejoin="miter"/>
<path d="M1019.10,542.95 L1027.70,551.35 M1027.70,542.95 L1019.10,551.35" stroke="#231f20" stroke-width="1.3" fill="none"/>
<path d="M1053.00,542.95 L1061.60,551.35 M1061.60,542.95 L1053.00,551.35" stroke="#231f20" stroke-width="1.3" fill="none"/>
<path d="M1095.20,542.95 L1103.80,551.35 M1103.80,542.95 L1095.20,551.35" stroke="#231f20" stroke-width="1.3" fill="none"/>
<path d="M1139.55,542.95 L1148.15,551.35 M1148.15,542.95 L1139.55,551.35" stroke="#231f20" stroke-width="1.3" fill="none"/>
<path d="M1177.60,542.95 L1186.20,551.35 M1186.20,542.95 L1177.60,551.35" stroke="#231f20" stroke-width="1.3" fill="none"/>
<path d="M1215.85,542.95 L1224.45,551.35 M1224.45,542.95 L1215.85,551.35" stroke="#231f20" stroke-width="1.3" fill="none"/>
<path d="M1263.25,550.45 L1270.45,550.45 L1266.85,544.70 Z" fill="none" stroke="#231f20" stroke-width="1.5" stroke-linejoin="miter"/>
<path d="M1318.20,550.45 L1325.40,550.45 L1321.80,544.70 Z" fill="none" stroke="#231f20" stroke-width="1.5" stroke-linejoin="miter"/>
<path d="M1411.05,550.45 L1418.25,550.45 L1414.65,544.70 Z" fill="none" stroke="#231f20" stroke-width="1.5" stroke-linejoin="miter"/>
<path d="M494.90,577.30 L502.10,577.30 L498.50,571.55 Z" fill="none" stroke="#231f20" stroke-width="1.5" stroke-linejoin="miter"/>
<path d="M528.80,577.30 L536.00,577.30 L532.40,571.55 Z" fill="none" stroke="#231f20" stroke-width="1.5" stroke-linejoin="miter"/>
<path d="M562.70,577.30 L569.90,577.30 L566.30,571.55 Z" fill="none" stroke="#231f20" stroke-width="1.5" stroke-linejoin="miter"/>
<path d="M609.20,577.30 L616.40,577.30 L612.80,571.55 Z" fill="none" stroke="#231f20" stroke-width="1.5" stroke-linejoin="miter"/>
<path d="M668.40,577.30 L675.60,577.30 L672.00,571.55 Z" fill="none" stroke="#231f20" stroke-width="1.5" stroke-linejoin="miter"/>
<path d="M714.90,577.30 L722.10,577.30 L718.50,571.55 Z" fill="none" stroke="#231f20" stroke-width="1.5" stroke-linejoin="miter"/>
<path d="M748.70,577.30 L755.90,577.30 L752.30,571.55 Z" fill="none" stroke="#231f20" stroke-width="1.5" stroke-linejoin="miter"/>
<path d="M776.75,577.30 L783.95,577.30 L780.35,571.55 Z" fill="none" stroke="#231f20" stroke-width="1.5" stroke-linejoin="miter"/>
<text transform="translate(785.15,578.00)" font-size="12" text-anchor="start" fill="#231f20">*3</text>
<path d="M810.65,577.30 L817.85,577.30 L814.25,571.55 Z" fill="none" stroke="#231f20" stroke-width="1.5" stroke-linejoin="miter"/>
<text transform="translate(819.05,578.00)" font-size="12" text-anchor="start" fill="#231f20">*3</text>
<path d="M844.50,577.30 L851.70,577.30 L848.10,571.55 Z" fill="none" stroke="#231f20" stroke-width="1.5" stroke-linejoin="miter"/>
<text transform="translate(852.90,578.00)" font-size="12" text-anchor="start" fill="#231f20">*3</text>
<path d="M884.10,577.30 L891.30,577.30 L887.70,571.55 Z" fill="none" stroke="#231f20" stroke-width="1.5" stroke-linejoin="miter"/>
<path d="M918.05,577.30 L925.25,577.30 L921.65,571.55 Z" fill="none" stroke="#231f20" stroke-width="1.5" stroke-linejoin="miter"/>
<path d="M952.05,577.30 L959.25,577.30 L955.65,571.55 Z" fill="none" stroke="#231f20" stroke-width="1.5" stroke-linejoin="miter"/>
<path d="M985.90,577.30 L993.10,577.30 L989.50,571.55 Z" fill="none" stroke="#231f20" stroke-width="1.5" stroke-linejoin="miter"/>
<path d="M1019.80,577.30 L1027.00,577.30 L1023.40,571.55 Z" fill="none" stroke="#231f20" stroke-width="1.5" stroke-linejoin="miter"/>
<path d="M1053.70,577.30 L1060.90,577.30 L1057.30,571.55 Z" fill="none" stroke="#231f20" stroke-width="1.5" stroke-linejoin="miter"/>
<path d="M1095.90,577.30 L1103.10,577.30 L1099.50,571.55 Z" fill="none" stroke="#231f20" stroke-width="1.5" stroke-linejoin="miter"/>
<path d="M1140.25,577.30 L1147.45,577.30 L1143.85,571.55 Z" fill="none" stroke="#231f20" stroke-width="1.5" stroke-linejoin="miter"/>
<path d="M1178.30,577.30 L1185.50,577.30 L1181.90,571.55 Z" fill="none" stroke="#231f20" stroke-width="1.5" stroke-linejoin="miter"/>
<path d="M1216.55,577.30 L1223.75,577.30 L1220.15,571.55 Z" fill="none" stroke="#231f20" stroke-width="1.5" stroke-linejoin="miter"/>
<path d="M1263.25,577.30 L1270.45,577.30 L1266.85,571.55 Z" fill="none" stroke="#231f20" stroke-width="1.5" stroke-linejoin="miter"/>
<path d="M1316.70,574.00 L1326.10,574.00 M1322.20,569.90 L1326.40,574.00 L1322.20,578.10" stroke="#231f20" stroke-width="1.4" fill="none"/>
<path d="M1411.05,577.30 L1418.25,577.30 L1414.65,571.55 Z" fill="none" stroke="#231f20" stroke-width="1.5" stroke-linejoin="miter"/>
<path d="M494.20,601.30 L502.80,609.70 M502.80,601.30 L494.20,609.70" stroke="#231f20" stroke-width="1.3" fill="none"/>
<path d="M528.10,601.30 L536.70,609.70 M536.70,601.30 L528.10,609.70" stroke="#231f20" stroke-width="1.3" fill="none"/>
<path d="M562.00,601.30 L570.60,609.70 M570.60,601.30 L562.00,609.70" stroke="#231f20" stroke-width="1.3" fill="none"/>
<path d="M608.50,601.30 L617.10,609.70 M617.10,601.30 L608.50,609.70" stroke="#231f20" stroke-width="1.3" fill="none"/>
<path d="M667.70,601.30 L676.30,609.70 M676.30,601.30 L667.70,609.70" stroke="#231f20" stroke-width="1.3" fill="none"/>
<path d="M714.20,601.30 L722.80,609.70 M722.80,601.30 L714.20,609.70" stroke="#231f20" stroke-width="1.3" fill="none"/>
<path d="M748.00,601.30 L756.60,609.70 M756.60,601.30 L748.00,609.70" stroke="#231f20" stroke-width="1.3" fill="none"/>
<path d="M776.75,608.80 L783.95,608.80 L780.35,603.05 Z" fill="none" stroke="#231f20" stroke-width="1.5" stroke-linejoin="miter"/>
<text transform="translate(785.15,609.50)" font-size="12" text-anchor="start" fill="#231f20">*3</text>
<path d="M815.75,601.30 L824.35,609.70 M824.35,601.30 L815.75,609.70" stroke="#231f20" stroke-width="1.3" fill="none"/>
<path d="M844.50,608.80 L851.70,608.80 L848.10,603.05 Z" fill="none" stroke="#231f20" stroke-width="1.5" stroke-linejoin="miter"/>
<text transform="translate(852.90,609.50)" font-size="12" text-anchor="start" fill="#231f20">*3</text>
<path d="M884.10,608.80 L891.30,608.80 L887.70,603.05 Z" fill="none" stroke="#231f20" stroke-width="1.5" stroke-linejoin="miter"/>
<path d="M918.05,608.80 L925.25,608.80 L921.65,603.05 Z" fill="none" stroke="#231f20" stroke-width="1.5" stroke-linejoin="miter"/>
<path d="M952.05,608.80 L959.25,608.80 L955.65,603.05 Z" fill="none" stroke="#231f20" stroke-width="1.5" stroke-linejoin="miter"/>
<path d="M985.90,608.80 L993.10,608.80 L989.50,603.05 Z" fill="none" stroke="#231f20" stroke-width="1.5" stroke-linejoin="miter"/>
<path d="M1019.10,601.30 L1027.70,609.70 M1027.70,601.30 L1019.10,609.70" stroke="#231f20" stroke-width="1.3" fill="none"/>
<path d="M1053.00,601.30 L1061.60,609.70 M1061.60,601.30 L1053.00,609.70" stroke="#231f20" stroke-width="1.3" fill="none"/>
<path d="M1095.20,601.30 L1103.80,609.70 M1103.80,601.30 L1095.20,609.70" stroke="#231f20" stroke-width="1.3" fill="none"/>
<path d="M1139.55,601.30 L1148.15,609.70 M1148.15,601.30 L1139.55,609.70" stroke="#231f20" stroke-width="1.3" fill="none"/>
<path d="M1177.60,601.30 L1186.20,609.70 M1186.20,601.30 L1177.60,609.70" stroke="#231f20" stroke-width="1.3" fill="none"/>
<path d="M1215.85,601.30 L1224.45,609.70 M1224.45,601.30 L1215.85,609.70" stroke="#231f20" stroke-width="1.3" fill="none"/>
<path d="M1263.25,608.80 L1270.45,608.80 L1266.85,603.05 Z" fill="none" stroke="#231f20" stroke-width="1.5" stroke-linejoin="miter"/>
<path d="M1316.70,605.50 L1326.10,605.50 M1322.20,601.40 L1326.40,605.50 L1322.20,609.60" stroke="#231f20" stroke-width="1.4" fill="none"/>
<path d="M1411.05,608.80 L1418.25,608.80 L1414.65,603.05 Z" fill="none" stroke="#231f20" stroke-width="1.5" stroke-linejoin="miter"/>
<path d="M494.90,642.80 L502.10,642.80 L498.50,637.05 Z" fill="none" stroke="#231f20" stroke-width="1.5" stroke-linejoin="miter"/>
<path d="M528.80,642.80 L536.00,642.80 L532.40,637.05 Z" fill="none" stroke="#231f20" stroke-width="1.5" stroke-linejoin="miter"/>
<path d="M562.70,642.80 L569.90,642.80 L566.30,637.05 Z" fill="none" stroke="#231f20" stroke-width="1.5" stroke-linejoin="miter"/>
<path d="M609.20,642.80 L616.40,642.80 L612.80,637.05 Z" fill="none" stroke="#231f20" stroke-width="1.5" stroke-linejoin="miter"/>
<path d="M668.40,642.80 L675.60,642.80 L672.00,637.05 Z" fill="none" stroke="#231f20" stroke-width="1.5" stroke-linejoin="miter"/>
<path d="M714.90,642.80 L722.10,642.80 L718.50,637.05 Z" fill="none" stroke="#231f20" stroke-width="1.5" stroke-linejoin="miter"/>
<path d="M748.70,642.80 L755.90,642.80 L752.30,637.05 Z" fill="none" stroke="#231f20" stroke-width="1.5" stroke-linejoin="miter"/>
<path d="M776.75,642.80 L783.95,642.80 L780.35,637.05 Z" fill="none" stroke="#231f20" stroke-width="1.5" stroke-linejoin="miter"/>
<text transform="translate(785.15,643.50)" font-size="12" text-anchor="start" fill="#231f20">*3</text>
<path d="M810.65,642.80 L817.85,642.80 L814.25,637.05 Z" fill="none" stroke="#231f20" stroke-width="1.5" stroke-linejoin="miter"/>
<text transform="translate(819.05,643.50)" font-size="12" text-anchor="start" fill="#231f20">*3</text>
<path d="M844.50,642.80 L851.70,642.80 L848.10,637.05 Z" fill="none" stroke="#231f20" stroke-width="1.5" stroke-linejoin="miter"/>
<text transform="translate(852.90,643.50)" font-size="12" text-anchor="start" fill="#231f20">*3</text>
<path d="M884.10,642.80 L891.30,642.80 L887.70,637.05 Z" fill="none" stroke="#231f20" stroke-width="1.5" stroke-linejoin="miter"/>
<path d="M918.05,642.80 L925.25,642.80 L921.65,637.05 Z" fill="none" stroke="#231f20" stroke-width="1.5" stroke-linejoin="miter"/>
<path d="M952.05,642.80 L959.25,642.80 L955.65,637.05 Z" fill="none" stroke="#231f20" stroke-width="1.5" stroke-linejoin="miter"/>
<path d="M985.90,642.80 L993.10,642.80 L989.50,637.05 Z" fill="none" stroke="#231f20" stroke-width="1.5" stroke-linejoin="miter"/>
<path d="M1019.80,642.80 L1027.00,642.80 L1023.40,637.05 Z" fill="none" stroke="#231f20" stroke-width="1.5" stroke-linejoin="miter"/>
<path d="M1053.70,642.80 L1060.90,642.80 L1057.30,637.05 Z" fill="none" stroke="#231f20" stroke-width="1.5" stroke-linejoin="miter"/>
<path d="M1095.90,642.80 L1103.10,642.80 L1099.50,637.05 Z" fill="none" stroke="#231f20" stroke-width="1.5" stroke-linejoin="miter"/>
<path d="M1140.25,642.80 L1147.45,642.80 L1143.85,637.05 Z" fill="none" stroke="#231f20" stroke-width="1.5" stroke-linejoin="miter"/>
<path d="M1178.30,642.80 L1185.50,642.80 L1181.90,637.05 Z" fill="none" stroke="#231f20" stroke-width="1.5" stroke-linejoin="miter"/>
<path d="M1216.55,642.80 L1223.75,642.80 L1220.15,637.05 Z" fill="none" stroke="#231f20" stroke-width="1.5" stroke-linejoin="miter"/>
<path d="M1263.25,642.80 L1270.45,642.80 L1266.85,637.05 Z" fill="none" stroke="#231f20" stroke-width="1.5" stroke-linejoin="miter"/>
<path d="M1318.20,642.80 L1325.40,642.80 L1321.80,637.05 Z" fill="none" stroke="#231f20" stroke-width="1.5" stroke-linejoin="miter"/>
<path d="M1411.05,642.80 L1418.25,642.80 L1414.65,637.05 Z" fill="none" stroke="#231f20" stroke-width="1.5" stroke-linejoin="miter"/>
<path d="M494.90,678.55 L502.10,678.55 L498.50,672.80 Z" fill="none" stroke="#231f20" stroke-width="1.5" stroke-linejoin="miter"/>
<path d="M528.80,678.55 L536.00,678.55 L532.40,672.80 Z" fill="none" stroke="#231f20" stroke-width="1.5" stroke-linejoin="miter"/>
<path d="M562.70,678.55 L569.90,678.55 L566.30,672.80 Z" fill="none" stroke="#231f20" stroke-width="1.5" stroke-linejoin="miter"/>
<path d="M609.20,678.55 L616.40,678.55 L612.80,672.80 Z" fill="none" stroke="#231f20" stroke-width="1.5" stroke-linejoin="miter"/>
<path d="M668.40,678.55 L675.60,678.55 L672.00,672.80 Z" fill="none" stroke="#231f20" stroke-width="1.5" stroke-linejoin="miter"/>
<path d="M714.90,678.55 L722.10,678.55 L718.50,672.80 Z" fill="none" stroke="#231f20" stroke-width="1.5" stroke-linejoin="miter"/>
<path d="M748.70,678.55 L755.90,678.55 L752.30,672.80 Z" fill="none" stroke="#231f20" stroke-width="1.5" stroke-linejoin="miter"/>
<path d="M776.75,678.55 L783.95,678.55 L780.35,672.80 Z" fill="none" stroke="#231f20" stroke-width="1.5" stroke-linejoin="miter"/>
<text transform="translate(785.15,679.25)" font-size="12" text-anchor="start" fill="#231f20">*7</text>
<path d="M816.45,678.55 L823.65,678.55 L820.05,672.80 Z" fill="none" stroke="#231f20" stroke-width="1.5" stroke-linejoin="miter"/>
<path d="M844.50,678.55 L851.70,678.55 L848.10,672.80 Z" fill="none" stroke="#231f20" stroke-width="1.5" stroke-linejoin="miter"/>
<text transform="translate(852.90,679.25)" font-size="12" text-anchor="start" fill="#231f20">*7</text>
<path d="M876.80,675.25 L886.20,675.25 M882.30,671.15 L886.50,675.25 L882.30,679.35" stroke="#231f20" stroke-width="1.4" fill="none"/>
<text transform="translate(887.40,679.25)" font-size="12" text-anchor="start" fill="#231f20">*8</text>
<path d="M918.05,678.55 L925.25,678.55 L921.65,672.80 Z" fill="none" stroke="#231f20" stroke-width="1.5" stroke-linejoin="miter"/>
<path d="M952.05,678.55 L959.25,678.55 L955.65,672.80 Z" fill="none" stroke="#231f20" stroke-width="1.5" stroke-linejoin="miter"/>
<path d="M985.90,678.55 L993.10,678.55 L989.50,672.80 Z" fill="none" stroke="#231f20" stroke-width="1.5" stroke-linejoin="miter"/>
<path d="M1019.80,678.55 L1027.00,678.55 L1023.40,672.80 Z" fill="none" stroke="#231f20" stroke-width="1.5" stroke-linejoin="miter"/>
<path d="M1053.70,678.55 L1060.90,678.55 L1057.30,672.80 Z" fill="none" stroke="#231f20" stroke-width="1.5" stroke-linejoin="miter"/>
<path d="M1095.90,678.55 L1103.10,678.55 L1099.50,672.80 Z" fill="none" stroke="#231f20" stroke-width="1.5" stroke-linejoin="miter"/>
<path d="M1140.25,678.55 L1147.45,678.55 L1143.85,672.80 Z" fill="none" stroke="#231f20" stroke-width="1.5" stroke-linejoin="miter"/>
<path d="M1178.30,678.55 L1185.50,678.55 L1181.90,672.80 Z" fill="none" stroke="#231f20" stroke-width="1.5" stroke-linejoin="miter"/>
<path d="M1216.55,678.55 L1223.75,678.55 L1220.15,672.80 Z" fill="none" stroke="#231f20" stroke-width="1.5" stroke-linejoin="miter"/>
<path d="M1263.25,678.55 L1270.45,678.55 L1266.85,672.80 Z" fill="none" stroke="#231f20" stroke-width="1.5" stroke-linejoin="miter"/>
<path d="M1318.20,678.55 L1325.40,678.55 L1321.80,672.80 Z" fill="none" stroke="#231f20" stroke-width="1.5" stroke-linejoin="miter"/>
<path d="M1411.05,678.55 L1418.25,678.55 L1414.65,672.80 Z" fill="none" stroke="#231f20" stroke-width="1.5" stroke-linejoin="miter"/>
<path d="M494.90,706.50 L502.10,706.50 L498.50,700.75 Z" fill="none" stroke="#231f20" stroke-width="1.5" stroke-linejoin="miter"/>
<path d="M528.80,706.50 L536.00,706.50 L532.40,700.75 Z" fill="none" stroke="#231f20" stroke-width="1.5" stroke-linejoin="miter"/>
<path d="M562.70,706.50 L569.90,706.50 L566.30,700.75 Z" fill="none" stroke="#231f20" stroke-width="1.5" stroke-linejoin="miter"/>
<path d="M609.20,706.50 L616.40,706.50 L612.80,700.75 Z" fill="none" stroke="#231f20" stroke-width="1.5" stroke-linejoin="miter"/>
<path d="M668.40,706.50 L675.60,706.50 L672.00,700.75 Z" fill="none" stroke="#231f20" stroke-width="1.5" stroke-linejoin="miter"/>
<path d="M714.90,706.50 L722.10,706.50 L718.50,700.75 Z" fill="none" stroke="#231f20" stroke-width="1.5" stroke-linejoin="miter"/>
<path d="M748.70,706.50 L755.90,706.50 L752.30,700.75 Z" fill="none" stroke="#231f20" stroke-width="1.5" stroke-linejoin="miter"/>
<path d="M782.55,706.50 L789.75,706.50 L786.15,700.75 Z" fill="none" stroke="#231f20" stroke-width="1.5" stroke-linejoin="miter"/>
<path d="M816.45,706.50 L823.65,706.50 L820.05,700.75 Z" fill="none" stroke="#231f20" stroke-width="1.5" stroke-linejoin="miter"/>
<path d="M850.30,706.50 L857.50,706.50 L853.90,700.75 Z" fill="none" stroke="#231f20" stroke-width="1.5" stroke-linejoin="miter"/>
<path d="M884.10,706.50 L891.30,706.50 L887.70,700.75 Z" fill="none" stroke="#231f20" stroke-width="1.5" stroke-linejoin="miter"/>
<path d="M916.55,703.20 L925.95,703.20 M922.05,699.10 L926.25,703.20 L922.05,707.30" stroke="#231f20" stroke-width="1.4" fill="none"/>
<path d="M950.55,703.20 L959.95,703.20 M956.05,699.10 L960.25,703.20 L956.05,707.30" stroke="#231f20" stroke-width="1.4" fill="none"/>
<path d="M984.40,703.20 L993.80,703.20 M989.90,699.10 L994.10,703.20 L989.90,707.30" stroke="#231f20" stroke-width="1.4" fill="none"/>
<path d="M1019.80,706.50 L1027.00,706.50 L1023.40,700.75 Z" fill="none" stroke="#231f20" stroke-width="1.5" stroke-linejoin="miter"/>
<path d="M1053.70,706.50 L1060.90,706.50 L1057.30,700.75 Z" fill="none" stroke="#231f20" stroke-width="1.5" stroke-linejoin="miter"/>
<path d="M1095.90,706.50 L1103.10,706.50 L1099.50,700.75 Z" fill="none" stroke="#231f20" stroke-width="1.5" stroke-linejoin="miter"/>
<path d="M1140.25,706.50 L1147.45,706.50 L1143.85,700.75 Z" fill="none" stroke="#231f20" stroke-width="1.5" stroke-linejoin="miter"/>
<path d="M1178.30,706.50 L1185.50,706.50 L1181.90,700.75 Z" fill="none" stroke="#231f20" stroke-width="1.5" stroke-linejoin="miter"/>
<path d="M1216.55,706.50 L1223.75,706.50 L1220.15,700.75 Z" fill="none" stroke="#231f20" stroke-width="1.5" stroke-linejoin="miter"/>
<path d="M1263.25,706.50 L1270.45,706.50 L1266.85,700.75 Z" fill="none" stroke="#231f20" stroke-width="1.5" stroke-linejoin="miter"/>
<path d="M1318.20,706.50 L1325.40,706.50 L1321.80,700.75 Z" fill="none" stroke="#231f20" stroke-width="1.5" stroke-linejoin="miter"/>
<path d="M1411.05,706.50 L1418.25,706.50 L1414.65,700.75 Z" fill="none" stroke="#231f20" stroke-width="1.5" stroke-linejoin="miter"/>
<path d="M494.90,733.50 L502.10,733.50 L498.50,727.75 Z" fill="none" stroke="#231f20" stroke-width="1.5" stroke-linejoin="miter"/>
<path d="M528.80,733.50 L536.00,733.50 L532.40,727.75 Z" fill="none" stroke="#231f20" stroke-width="1.5" stroke-linejoin="miter"/>
<path d="M562.70,733.50 L569.90,733.50 L566.30,727.75 Z" fill="none" stroke="#231f20" stroke-width="1.5" stroke-linejoin="miter"/>
<circle cx="612.80" cy="730.20" r="3.60" fill="none" stroke="#231f20" stroke-width="1.5"/>
<circle cx="672.00" cy="730.20" r="3.60" fill="none" stroke="#231f20" stroke-width="1.5"/>
<path d="M714.90,733.50 L722.10,733.50 L718.50,727.75 Z" fill="none" stroke="#231f20" stroke-width="1.5" stroke-linejoin="miter"/>
<path d="M748.70,733.50 L755.90,733.50 L752.30,727.75 Z" fill="none" stroke="#231f20" stroke-width="1.5" stroke-linejoin="miter"/>
<path d="M782.55,733.50 L789.75,733.50 L786.15,727.75 Z" fill="none" stroke="#231f20" stroke-width="1.5" stroke-linejoin="miter"/>
<path d="M816.45,733.50 L823.65,733.50 L820.05,727.75 Z" fill="none" stroke="#231f20" stroke-width="1.5" stroke-linejoin="miter"/>
<path d="M850.30,733.50 L857.50,733.50 L853.90,727.75 Z" fill="none" stroke="#231f20" stroke-width="1.5" stroke-linejoin="miter"/>
<path d="M884.10,727.30 L891.30,727.30 L887.70,721.55 Z" fill="none" stroke="#231f20" stroke-width="1.5" stroke-linejoin="miter"/>
<text transform="translate(887.70,741.00)" font-size="12" text-anchor="middle" fill="#231f20">*10</text>
<path d="M918.05,733.50 L925.25,733.50 L921.65,727.75 Z" fill="none" stroke="#231f20" stroke-width="1.5" stroke-linejoin="miter"/>
<path d="M950.55,730.20 L959.95,730.20 M956.05,726.10 L960.25,730.20 L956.05,734.30" stroke="#231f20" stroke-width="1.4" fill="none"/>
<path d="M984.40,730.20 L993.80,730.20 M989.90,726.10 L994.10,730.20 L989.90,734.30" stroke="#231f20" stroke-width="1.4" fill="none"/>
<path d="M1019.80,733.50 L1027.00,733.50 L1023.40,727.75 Z" fill="none" stroke="#231f20" stroke-width="1.5" stroke-linejoin="miter"/>
<path d="M1053.70,733.50 L1060.90,733.50 L1057.30,727.75 Z" fill="none" stroke="#231f20" stroke-width="1.5" stroke-linejoin="miter"/>
<path d="M1095.90,733.50 L1103.10,733.50 L1099.50,727.75 Z" fill="none" stroke="#231f20" stroke-width="1.5" stroke-linejoin="miter"/>
<path d="M1140.25,733.50 L1147.45,733.50 L1143.85,727.75 Z" fill="none" stroke="#231f20" stroke-width="1.5" stroke-linejoin="miter"/>
<path d="M1178.30,733.50 L1185.50,733.50 L1181.90,727.75 Z" fill="none" stroke="#231f20" stroke-width="1.5" stroke-linejoin="miter"/>
<path d="M1216.55,733.50 L1223.75,733.50 L1220.15,727.75 Z" fill="none" stroke="#231f20" stroke-width="1.5" stroke-linejoin="miter"/>
<path d="M1263.25,733.50 L1270.45,733.50 L1266.85,727.75 Z" fill="none" stroke="#231f20" stroke-width="1.5" stroke-linejoin="miter"/>
<path d="M1318.20,733.50 L1325.40,733.50 L1321.80,727.75 Z" fill="none" stroke="#231f20" stroke-width="1.5" stroke-linejoin="miter"/>
<path d="M1411.05,733.50 L1418.25,733.50 L1414.65,727.75 Z" fill="none" stroke="#231f20" stroke-width="1.5" stroke-linejoin="miter"/>
<path d="M494.90,772.05 L502.10,772.05 L498.50,766.30 Z" fill="none" stroke="#231f20" stroke-width="1.5" stroke-linejoin="miter"/>
<path d="M527.30,768.75 L536.70,768.75 M532.80,764.65 L537.00,768.75 L532.80,772.85" stroke="#231f20" stroke-width="1.4" fill="none"/>
<path d="M562.70,772.05 L569.90,772.05 L566.30,766.30 Z" fill="none" stroke="#231f20" stroke-width="1.5" stroke-linejoin="miter"/>
<circle cx="612.80" cy="768.75" r="3.60" fill="none" stroke="#231f20" stroke-width="1.5"/>
<circle cx="666.20" cy="768.75" r="3.60" fill="none" stroke="#231f20" stroke-width="1.5"/>
<text transform="translate(671.00,772.75)" font-size="12" text-anchor="start" fill="#231f20">*5</text>
<path d="M714.90,772.05 L722.10,772.05 L718.50,766.30 Z" fill="none" stroke="#231f20" stroke-width="1.5" stroke-linejoin="miter"/>
<path d="M748.70,772.05 L755.90,772.05 L752.30,766.30 Z" fill="none" stroke="#231f20" stroke-width="1.5" stroke-linejoin="miter"/>
<path d="M782.55,772.05 L789.75,772.05 L786.15,766.30 Z" fill="none" stroke="#231f20" stroke-width="1.5" stroke-linejoin="miter"/>
<path d="M816.45,772.05 L823.65,772.05 L820.05,766.30 Z" fill="none" stroke="#231f20" stroke-width="1.5" stroke-linejoin="miter"/>
<path d="M850.30,772.05 L857.50,772.05 L853.90,766.30 Z" fill="none" stroke="#231f20" stroke-width="1.5" stroke-linejoin="miter"/>
<path d="M884.10,765.85 L891.30,765.85 L887.70,760.10 Z" fill="none" stroke="#231f20" stroke-width="1.5" stroke-linejoin="miter"/>
<text transform="translate(887.70,779.55)" font-size="12" text-anchor="middle" fill="#231f20">*10</text>
<path d="M918.05,772.05 L925.25,772.05 L921.65,766.30 Z" fill="none" stroke="#231f20" stroke-width="1.5" stroke-linejoin="miter"/>
<path d="M950.55,768.75 L959.95,768.75 M956.05,764.65 L960.25,768.75 L956.05,772.85" stroke="#231f20" stroke-width="1.4" fill="none"/>
<path d="M984.40,768.75 L993.80,768.75 M989.90,764.65 L994.10,768.75 L989.90,772.85" stroke="#231f20" stroke-width="1.4" fill="none"/>
<path d="M1019.80,772.05 L1027.00,772.05 L1023.40,766.30 Z" fill="none" stroke="#231f20" stroke-width="1.5" stroke-linejoin="miter"/>
<path d="M1053.70,772.05 L1060.90,772.05 L1057.30,766.30 Z" fill="none" stroke="#231f20" stroke-width="1.5" stroke-linejoin="miter"/>
<path d="M1095.90,772.05 L1103.10,772.05 L1099.50,766.30 Z" fill="none" stroke="#231f20" stroke-width="1.5" stroke-linejoin="miter"/>
<path d="M1140.25,772.05 L1147.45,772.05 L1143.85,766.30 Z" fill="none" stroke="#231f20" stroke-width="1.5" stroke-linejoin="miter"/>
<path d="M1178.30,772.05 L1185.50,772.05 L1181.90,766.30 Z" fill="none" stroke="#231f20" stroke-width="1.5" stroke-linejoin="miter"/>
<path d="M1210.75,772.05 L1217.95,772.05 L1214.35,766.30 Z" fill="none" stroke="#231f20" stroke-width="1.5" stroke-linejoin="miter"/>
<text transform="translate(1219.15,772.75)" font-size="12" text-anchor="start" fill="#231f20">*4</text>
<path d="M1257.45,772.05 L1264.65,772.05 L1261.05,766.30 Z" fill="none" stroke="#231f20" stroke-width="1.5" stroke-linejoin="miter"/>
<text transform="translate(1265.85,772.75)" font-size="12" text-anchor="start" fill="#231f20">*4</text>
<path d="M1318.20,772.05 L1325.40,772.05 L1321.80,766.30 Z" fill="none" stroke="#231f20" stroke-width="1.5" stroke-linejoin="miter"/>
<path d="M1405.25,772.05 L1412.45,772.05 L1408.85,766.30 Z" fill="none" stroke="#231f20" stroke-width="1.5" stroke-linejoin="miter"/>
<text transform="translate(1413.65,772.75)" font-size="12" text-anchor="start" fill="#231f20">*4</text>
<circle cx="498.50" cy="800.80" r="4.40" fill="#231f20"/>
<circle cx="532.40" cy="800.80" r="4.40" fill="#231f20"/>
<circle cx="566.30" cy="800.80" r="4.40" fill="#231f20"/>
<circle cx="612.80" cy="800.80" r="3.60" fill="none" stroke="#231f20" stroke-width="1.5"/>
<circle cx="672.00" cy="800.80" r="3.60" fill="none" stroke="#231f20" stroke-width="1.5"/>
<circle cx="718.50" cy="800.80" r="4.40" fill="#231f20"/>
<circle cx="752.30" cy="800.80" r="4.40" fill="#231f20"/>
<path d="M782.55,804.10 L789.75,804.10 L786.15,798.35 Z" fill="none" stroke="#231f20" stroke-width="1.5" stroke-linejoin="miter"/>
<circle cx="820.05" cy="800.80" r="4.40" fill="#231f20"/>
<path d="M850.30,804.10 L857.50,804.10 L853.90,798.35 Z" fill="none" stroke="#231f20" stroke-width="1.5" stroke-linejoin="miter"/>
<path d="M884.10,804.10 L891.30,804.10 L887.70,798.35 Z" fill="none" stroke="#231f20" stroke-width="1.5" stroke-linejoin="miter"/>
<path d="M918.05,804.10 L925.25,804.10 L921.65,798.35 Z" fill="none" stroke="#231f20" stroke-width="1.5" stroke-linejoin="miter"/>
<path d="M952.05,804.10 L959.25,804.10 L955.65,798.35 Z" fill="none" stroke="#231f20" stroke-width="1.5" stroke-linejoin="miter"/>
<path d="M985.90,804.10 L993.10,804.10 L989.50,798.35 Z" fill="none" stroke="#231f20" stroke-width="1.5" stroke-linejoin="miter"/>
<path d="M1019.10,796.60 L1027.70,805.00 M1027.70,796.60 L1019.10,805.00" stroke="#231f20" stroke-width="1.3" fill="none"/>
<path d="M1053.00,796.60 L1061.60,805.00 M1061.60,796.60 L1053.00,805.00" stroke="#231f20" stroke-width="1.3" fill="none"/>
<circle cx="1099.50" cy="800.80" r="4.40" fill="#231f20"/>
<circle cx="1143.85" cy="800.80" r="4.40" fill="#231f20"/>
<circle cx="1181.90" cy="800.80" r="4.40" fill="#231f20"/>
<circle cx="1220.15" cy="800.80" r="4.40" fill="#231f20"/>
<path d="M1263.25,804.10 L1270.45,804.10 L1266.85,798.35 Z" fill="none" stroke="#231f20" stroke-width="1.5" stroke-linejoin="miter"/>
<path d="M1318.20,804.10 L1325.40,804.10 L1321.80,798.35 Z" fill="none" stroke="#231f20" stroke-width="1.5" stroke-linejoin="miter"/>
<path d="M1411.05,804.10 L1418.25,804.10 L1414.65,798.35 Z" fill="none" stroke="#231f20" stroke-width="1.5" stroke-linejoin="miter"/>
<circle cx="498.50" cy="821.30" r="4.40" fill="#231f20"/>
<circle cx="526.60" cy="821.30" r="4.40" fill="#231f20"/>
<text transform="translate(531.40,825.30)" font-size="12" text-anchor="start" fill="#231f20">*2</text>
<circle cx="560.50" cy="821.30" r="4.40" fill="#231f20"/>
<text transform="translate(565.30,825.30)" font-size="12" text-anchor="start" fill="#231f20">*2</text>
<circle cx="607.00" cy="821.30" r="3.60" fill="none" stroke="#231f20" stroke-width="1.5"/>
<text transform="translate(611.80,825.30)" font-size="12" text-anchor="start" fill="#231f20">*2</text>
<circle cx="666.20" cy="821.30" r="3.60" fill="none" stroke="#231f20" stroke-width="1.5"/>
<text transform="translate(671.00,825.30)" font-size="12" text-anchor="start" fill="#231f20">*2</text>
<circle cx="718.50" cy="821.30" r="4.40" fill="#231f20"/>
<circle cx="746.50" cy="821.30" r="4.40" fill="#231f20"/>
<text transform="translate(751.30,825.30)" font-size="12" text-anchor="start" fill="#231f20">*2</text>
<path d="M782.55,824.60 L789.75,824.60 L786.15,818.85 Z" fill="none" stroke="#231f20" stroke-width="1.5" stroke-linejoin="miter"/>
<circle cx="814.25" cy="821.30" r="4.40" fill="#231f20"/>
<text transform="translate(819.05,825.30)" font-size="12" text-anchor="start" fill="#231f20">*2</text>
<path d="M850.30,824.60 L857.50,824.60 L853.90,818.85 Z" fill="none" stroke="#231f20" stroke-width="1.5" stroke-linejoin="miter"/>
<path d="M884.10,824.60 L891.30,824.60 L887.70,818.85 Z" fill="none" stroke="#231f20" stroke-width="1.5" stroke-linejoin="miter"/>
<path d="M918.05,824.60 L925.25,824.60 L921.65,818.85 Z" fill="none" stroke="#231f20" stroke-width="1.5" stroke-linejoin="miter"/>
<path d="M952.05,824.60 L959.25,824.60 L955.65,818.85 Z" fill="none" stroke="#231f20" stroke-width="1.5" stroke-linejoin="miter"/>
<path d="M985.90,824.60 L993.10,824.60 L989.50,818.85 Z" fill="none" stroke="#231f20" stroke-width="1.5" stroke-linejoin="miter"/>
<path d="M1019.10,817.10 L1027.70,825.50 M1027.70,817.10 L1019.10,825.50" stroke="#231f20" stroke-width="1.3" fill="none"/>
<path d="M1053.00,817.10 L1061.60,825.50 M1061.60,817.10 L1053.00,825.50" stroke="#231f20" stroke-width="1.3" fill="none"/>
<path d="M1095.20,817.10 L1103.80,825.50 M1103.80,817.10 L1095.20,825.50" stroke="#231f20" stroke-width="1.3" fill="none"/>
<circle cx="1143.85" cy="821.30" r="4.40" fill="#231f20"/>
<circle cx="1181.90" cy="821.30" r="4.40" fill="#231f20"/>
<circle cx="1220.15" cy="821.30" r="4.40" fill="#231f20"/>
<path d="M1263.25,824.60 L1270.45,824.60 L1266.85,818.85 Z" fill="none" stroke="#231f20" stroke-width="1.5" stroke-linejoin="miter"/>
<path d="M1318.20,824.60 L1325.40,824.60 L1321.80,818.85 Z" fill="none" stroke="#231f20" stroke-width="1.5" stroke-linejoin="miter"/>
<path d="M1411.05,824.60 L1418.25,824.60 L1414.65,818.85 Z" fill="none" stroke="#231f20" stroke-width="1.5" stroke-linejoin="miter"/>
<path d="M494.20,837.60 L502.80,846.00 M502.80,837.60 L494.20,846.00" stroke="#231f20" stroke-width="1.3" fill="none"/>
<path d="M528.10,837.60 L536.70,846.00 M536.70,837.60 L528.10,846.00" stroke="#231f20" stroke-width="1.3" fill="none"/>
<path d="M562.00,837.60 L570.60,846.00 M570.60,837.60 L562.00,846.00" stroke="#231f20" stroke-width="1.3" fill="none"/>
<path d="M608.50,837.60 L617.10,846.00 M617.10,837.60 L608.50,846.00" stroke="#231f20" stroke-width="1.3" fill="none"/>
<path d="M667.70,837.60 L676.30,846.00 M676.30,837.60 L667.70,846.00" stroke="#231f20" stroke-width="1.3" fill="none"/>
<path d="M714.20,837.60 L722.80,846.00 M722.80,837.60 L714.20,846.00" stroke="#231f20" stroke-width="1.3" fill="none"/>
<path d="M748.00,837.60 L756.60,846.00 M756.60,837.60 L748.00,846.00" stroke="#231f20" stroke-width="1.3" fill="none"/>
<path d="M782.55,845.10 L789.75,845.10 L786.15,839.35 Z" fill="none" stroke="#231f20" stroke-width="1.5" stroke-linejoin="miter"/>
<path d="M815.75,837.60 L824.35,846.00 M824.35,837.60 L815.75,846.00" stroke="#231f20" stroke-width="1.3" fill="none"/>
<path d="M850.30,845.10 L857.50,845.10 L853.90,839.35 Z" fill="none" stroke="#231f20" stroke-width="1.5" stroke-linejoin="miter"/>
<path d="M884.10,845.10 L891.30,845.10 L887.70,839.35 Z" fill="none" stroke="#231f20" stroke-width="1.5" stroke-linejoin="miter"/>
<path d="M918.05,845.10 L925.25,845.10 L921.65,839.35 Z" fill="none" stroke="#231f20" stroke-width="1.5" stroke-linejoin="miter"/>
<path d="M952.05,845.10 L959.25,845.10 L955.65,839.35 Z" fill="none" stroke="#231f20" stroke-width="1.5" stroke-linejoin="miter"/>
<path d="M985.90,845.10 L993.10,845.10 L989.50,839.35 Z" fill="none" stroke="#231f20" stroke-width="1.5" stroke-linejoin="miter"/>
<path d="M1019.10,837.60 L1027.70,846.00 M1027.70,837.60 L1019.10,846.00" stroke="#231f20" stroke-width="1.3" fill="none"/>
<path d="M1053.00,837.60 L1061.60,846.00 M1061.60,837.60 L1053.00,846.00" stroke="#231f20" stroke-width="1.3" fill="none"/>
<path d="M1095.20,837.60 L1103.80,846.00 M1103.80,837.60 L1095.20,846.00" stroke="#231f20" stroke-width="1.3" fill="none"/>
<path d="M1139.55,837.60 L1148.15,846.00 M1148.15,837.60 L1139.55,846.00" stroke="#231f20" stroke-width="1.3" fill="none"/>
<path d="M1177.60,837.60 L1186.20,846.00 M1186.20,837.60 L1177.60,846.00" stroke="#231f20" stroke-width="1.3" fill="none"/>
<path d="M1215.85,837.60 L1224.45,846.00 M1224.45,837.60 L1215.85,846.00" stroke="#231f20" stroke-width="1.3" fill="none"/>
<path d="M1263.25,845.10 L1270.45,845.10 L1266.85,839.35 Z" fill="none" stroke="#231f20" stroke-width="1.5" stroke-linejoin="miter"/>
<path d="M1318.20,845.10 L1325.40,845.10 L1321.80,839.35 Z" fill="none" stroke="#231f20" stroke-width="1.5" stroke-linejoin="miter"/>
<path d="M1411.05,845.10 L1418.25,845.10 L1414.65,839.35 Z" fill="none" stroke="#231f20" stroke-width="1.5" stroke-linejoin="miter"/>
<circle cx="498.50" cy="862.35" r="4.40" fill="#231f20"/>
<circle cx="532.40" cy="862.35" r="4.40" fill="#231f20"/>
<circle cx="566.30" cy="862.35" r="4.40" fill="#231f20"/>
<circle cx="612.80" cy="862.35" r="3.60" fill="none" stroke="#231f20" stroke-width="1.5"/>
<circle cx="672.00" cy="862.35" r="3.60" fill="none" stroke="#231f20" stroke-width="1.5"/>
<circle cx="718.50" cy="862.35" r="4.40" fill="#231f20"/>
<circle cx="752.30" cy="862.35" r="4.40" fill="#231f20"/>
<path d="M782.55,865.65 L789.75,865.65 L786.15,859.90 Z" fill="none" stroke="#231f20" stroke-width="1.5" stroke-linejoin="miter"/>
<circle cx="820.05" cy="862.35" r="4.40" fill="#231f20"/>
<path d="M850.30,865.65 L857.50,865.65 L853.90,859.90 Z" fill="none" stroke="#231f20" stroke-width="1.5" stroke-linejoin="miter"/>
<path d="M884.10,865.65 L891.30,865.65 L887.70,859.90 Z" fill="none" stroke="#231f20" stroke-width="1.5" stroke-linejoin="miter"/>
<path d="M918.05,865.65 L925.25,865.65 L921.65,859.90 Z" fill="none" stroke="#231f20" stroke-width="1.5" stroke-linejoin="miter"/>
<path d="M952.05,865.65 L959.25,865.65 L955.65,859.90 Z" fill="none" stroke="#231f20" stroke-width="1.5" stroke-linejoin="miter"/>
<path d="M985.90,865.65 L993.10,865.65 L989.50,859.90 Z" fill="none" stroke="#231f20" stroke-width="1.5" stroke-linejoin="miter"/>
<circle cx="1023.40" cy="862.35" r="4.40" fill="#231f20"/>
<circle cx="1057.30" cy="862.35" r="4.40" fill="#231f20"/>
<circle cx="1099.50" cy="862.35" r="4.40" fill="#231f20"/>
<path d="M1139.55,858.15 L1148.15,866.55 M1148.15,858.15 L1139.55,866.55" stroke="#231f20" stroke-width="1.3" fill="none"/>
<path d="M1177.60,858.15 L1186.20,866.55 M1186.20,858.15 L1177.60,866.55" stroke="#231f20" stroke-width="1.3" fill="none"/>
<path d="M1215.85,858.15 L1224.45,866.55 M1224.45,858.15 L1215.85,866.55" stroke="#231f20" stroke-width="1.3" fill="none"/>
<path d="M1263.25,865.65 L1270.45,865.65 L1266.85,859.90 Z" fill="none" stroke="#231f20" stroke-width="1.5" stroke-linejoin="miter"/>
<path d="M1318.20,865.65 L1325.40,865.65 L1321.80,859.90 Z" fill="none" stroke="#231f20" stroke-width="1.5" stroke-linejoin="miter"/>
<path d="M1411.05,865.65 L1418.25,865.65 L1414.65,859.90 Z" fill="none" stroke="#231f20" stroke-width="1.5" stroke-linejoin="miter"/>
<circle cx="498.50" cy="887.85" r="4.40" fill="#231f20"/>
<path d="M528.10,883.65 L536.70,892.05 M536.70,883.65 L528.10,892.05" stroke="#231f20" stroke-width="1.3" fill="none"/>
<path d="M562.00,883.65 L570.60,892.05 M570.60,883.65 L562.00,892.05" stroke="#231f20" stroke-width="1.3" fill="none"/>
<circle cx="612.80" cy="887.85" r="3.60" fill="none" stroke="#231f20" stroke-width="1.5"/>
<circle cx="672.00" cy="887.85" r="3.60" fill="none" stroke="#231f20" stroke-width="1.5"/>
<circle cx="718.50" cy="887.85" r="4.40" fill="#231f20"/>
<path d="M748.00,883.65 L756.60,892.05 M756.60,883.65 L748.00,892.05" stroke="#231f20" stroke-width="1.3" fill="none"/>
<path d="M782.55,891.15 L789.75,891.15 L786.15,885.40 Z" fill="none" stroke="#231f20" stroke-width="1.5" stroke-linejoin="miter"/>
<path d="M815.75,883.65 L824.35,892.05 M824.35,883.65 L815.75,892.05" stroke="#231f20" stroke-width="1.3" fill="none"/>
<path d="M850.30,891.15 L857.50,891.15 L853.90,885.40 Z" fill="none" stroke="#231f20" stroke-width="1.5" stroke-linejoin="miter"/>
<path d="M884.10,891.15 L891.30,891.15 L887.70,885.40 Z" fill="none" stroke="#231f20" stroke-width="1.5" stroke-linejoin="miter"/>
<path d="M918.05,891.15 L925.25,891.15 L921.65,885.40 Z" fill="none" stroke="#231f20" stroke-width="1.5" stroke-linejoin="miter"/>
<path d="M952.05,891.15 L959.25,891.15 L955.65,885.40 Z" fill="none" stroke="#231f20" stroke-width="1.5" stroke-linejoin="miter"/>
<path d="M985.90,891.15 L993.10,891.15 L989.50,885.40 Z" fill="none" stroke="#231f20" stroke-width="1.5" stroke-linejoin="miter"/>
<circle cx="1023.40" cy="887.85" r="4.40" fill="#231f20"/>
<path d="M1053.00,883.65 L1061.60,892.05 M1061.60,883.65 L1053.00,892.05" stroke="#231f20" stroke-width="1.3" fill="none"/>
<path d="M1095.20,883.65 L1103.80,892.05 M1103.80,883.65 L1095.20,892.05" stroke="#231f20" stroke-width="1.3" fill="none"/>
<path d="M1139.55,883.65 L1148.15,892.05 M1148.15,883.65 L1139.55,892.05" stroke="#231f20" stroke-width="1.3" fill="none"/>
<path d="M1177.60,883.65 L1186.20,892.05 M1186.20,883.65 L1177.60,892.05" stroke="#231f20" stroke-width="1.3" fill="none"/>
<path d="M1215.85,883.65 L1224.45,892.05 M1224.45,883.65 L1215.85,892.05" stroke="#231f20" stroke-width="1.3" fill="none"/>
<path d="M1263.25,891.15 L1270.45,891.15 L1266.85,885.40 Z" fill="none" stroke="#231f20" stroke-width="1.5" stroke-linejoin="miter"/>
<path d="M1318.20,891.15 L1325.40,891.15 L1321.80,885.40 Z" fill="none" stroke="#231f20" stroke-width="1.5" stroke-linejoin="miter"/>
<path d="M1411.05,891.15 L1418.25,891.15 L1414.65,885.40 Z" fill="none" stroke="#231f20" stroke-width="1.5" stroke-linejoin="miter"/>
<circle cx="498.50" cy="919.90" r="4.40" fill="#231f20"/>
<path d="M527.30,919.90 L536.70,919.90 M532.80,915.80 L537.00,919.90 L532.80,924.00" stroke="#231f20" stroke-width="1.4" fill="none"/>
<path d="M561.20,919.90 L570.60,919.90 M566.70,915.80 L570.90,919.90 L566.70,924.00" stroke="#231f20" stroke-width="1.4" fill="none"/>
<circle cx="612.80" cy="919.90" r="3.60" fill="none" stroke="#231f20" stroke-width="1.5"/>
<circle cx="672.00" cy="919.90" r="3.60" fill="none" stroke="#231f20" stroke-width="1.5"/>
<circle cx="718.50" cy="919.90" r="4.40" fill="#231f20"/>
<path d="M748.70,923.20 L755.90,923.20 L752.30,917.45 Z" fill="none" stroke="#231f20" stroke-width="1.5" stroke-linejoin="miter"/>
<path d="M782.55,923.20 L789.75,923.20 L786.15,917.45 Z" fill="none" stroke="#231f20" stroke-width="1.5" stroke-linejoin="miter"/>
<path d="M816.45,923.20 L823.65,923.20 L820.05,917.45 Z" fill="none" stroke="#231f20" stroke-width="1.5" stroke-linejoin="miter"/>
<path d="M850.30,923.20 L857.50,923.20 L853.90,917.45 Z" fill="none" stroke="#231f20" stroke-width="1.5" stroke-linejoin="miter"/>
<path d="M884.10,917.00 L891.30,917.00 L887.70,911.25 Z" fill="none" stroke="#231f20" stroke-width="1.5" stroke-linejoin="miter"/>
<text transform="translate(887.70,930.70)" font-size="12" text-anchor="middle" fill="#231f20">*10</text>
<path d="M918.05,923.20 L925.25,923.20 L921.65,917.45 Z" fill="none" stroke="#231f20" stroke-width="1.5" stroke-linejoin="miter"/>
<path d="M952.05,923.20 L959.25,923.20 L955.65,917.45 Z" fill="none" stroke="#231f20" stroke-width="1.5" stroke-linejoin="miter"/>
<path d="M985.90,923.20 L993.10,923.20 L989.50,917.45 Z" fill="none" stroke="#231f20" stroke-width="1.5" stroke-linejoin="miter"/>
<path d="M1019.80,923.20 L1027.00,923.20 L1023.40,917.45 Z" fill="none" stroke="#231f20" stroke-width="1.5" stroke-linejoin="miter"/>
<path d="M1053.70,923.20 L1060.90,923.20 L1057.30,917.45 Z" fill="none" stroke="#231f20" stroke-width="1.5" stroke-linejoin="miter"/>
<path d="M1095.90,923.20 L1103.10,923.20 L1099.50,917.45 Z" fill="none" stroke="#231f20" stroke-width="1.5" stroke-linejoin="miter"/>
<path d="M1134.45,923.20 L1141.65,923.20 L1138.05,917.45 Z" fill="none" stroke="#231f20" stroke-width="1.5" stroke-linejoin="miter"/>
<text transform="translate(1142.85,923.90)" font-size="12" text-anchor="start" fill="#231f20">*6</text>
<path d="M1172.50,923.20 L1179.70,923.20 L1176.10,917.45 Z" fill="none" stroke="#231f20" stroke-width="1.5" stroke-linejoin="miter"/>
<text transform="translate(1180.90,923.90)" font-size="12" text-anchor="start" fill="#231f20">*6</text>
<path d="M1209.25,919.90 L1218.65,919.90 M1214.75,915.80 L1218.95,919.90 L1214.75,924.00" stroke="#231f20" stroke-width="1.4" fill="none"/>
<text transform="translate(1219.85,923.90)" font-size="12" text-anchor="start" fill="#231f20">*6</text>
<path d="M1263.25,923.20 L1270.45,923.20 L1266.85,917.45 Z" fill="none" stroke="#231f20" stroke-width="1.5" stroke-linejoin="miter"/>
<path d="M1318.20,923.20 L1325.40,923.20 L1321.80,917.45 Z" fill="none" stroke="#231f20" stroke-width="1.5" stroke-linejoin="miter"/>
<path d="M1411.05,923.20 L1418.25,923.20 L1414.65,917.45 Z" fill="none" stroke="#231f20" stroke-width="1.5" stroke-linejoin="miter"/>
<path d="M494.90,956.70 L502.10,956.70 L498.50,950.95 Z" fill="none" stroke="#231f20" stroke-width="1.5" stroke-linejoin="miter"/>
<path d="M523.00,956.70 L530.20,956.70 L526.60,950.95 Z" fill="none" stroke="#231f20" stroke-width="1.5" stroke-linejoin="miter"/>
<text transform="translate(531.40,957.40)" font-size="12" text-anchor="start" fill="#231f20">*4</text>
<path d="M562.70,956.70 L569.90,956.70 L566.30,950.95 Z" fill="none" stroke="#231f20" stroke-width="1.5" stroke-linejoin="miter"/>
<path d="M609.20,956.70 L616.40,956.70 L612.80,950.95 Z" fill="none" stroke="#231f20" stroke-width="1.5" stroke-linejoin="miter"/>
<path d="M668.40,956.70 L675.60,956.70 L672.00,950.95 Z" fill="none" stroke="#231f20" stroke-width="1.5" stroke-linejoin="miter"/>
<path d="M714.90,956.70 L722.10,956.70 L718.50,950.95 Z" fill="none" stroke="#231f20" stroke-width="1.5" stroke-linejoin="miter"/>
<path d="M748.70,956.70 L755.90,956.70 L752.30,950.95 Z" fill="none" stroke="#231f20" stroke-width="1.5" stroke-linejoin="miter"/>
<path d="M782.55,956.70 L789.75,956.70 L786.15,950.95 Z" fill="none" stroke="#231f20" stroke-width="1.5" stroke-linejoin="miter"/>
<path d="M816.45,956.70 L823.65,956.70 L820.05,950.95 Z" fill="none" stroke="#231f20" stroke-width="1.5" stroke-linejoin="miter"/>
<path d="M850.30,956.70 L857.50,956.70 L853.90,950.95 Z" fill="none" stroke="#231f20" stroke-width="1.5" stroke-linejoin="miter"/>
<path d="M884.10,950.50 L891.30,950.50 L887.70,944.75 Z" fill="none" stroke="#231f20" stroke-width="1.5" stroke-linejoin="miter"/>
<text transform="translate(887.70,964.20)" font-size="12" text-anchor="middle" fill="#231f20">*10</text>
<path d="M918.05,956.70 L925.25,956.70 L921.65,950.95 Z" fill="none" stroke="#231f20" stroke-width="1.5" stroke-linejoin="miter"/>
<path d="M952.05,956.70 L959.25,956.70 L955.65,950.95 Z" fill="none" stroke="#231f20" stroke-width="1.5" stroke-linejoin="miter"/>
<path d="M985.90,956.70 L993.10,956.70 L989.50,950.95 Z" fill="none" stroke="#231f20" stroke-width="1.5" stroke-linejoin="miter"/>
<path d="M1019.80,956.70 L1027.00,956.70 L1023.40,950.95 Z" fill="none" stroke="#231f20" stroke-width="1.5" stroke-linejoin="miter"/>
<path d="M1053.70,956.70 L1060.90,956.70 L1057.30,950.95 Z" fill="none" stroke="#231f20" stroke-width="1.5" stroke-linejoin="miter"/>
<path d="M1095.90,956.70 L1103.10,956.70 L1099.50,950.95 Z" fill="none" stroke="#231f20" stroke-width="1.5" stroke-linejoin="miter"/>
<path d="M1140.25,956.70 L1147.45,956.70 L1143.85,950.95 Z" fill="none" stroke="#231f20" stroke-width="1.5" stroke-linejoin="miter"/>
<path d="M1178.30,956.70 L1185.50,956.70 L1181.90,950.95 Z" fill="none" stroke="#231f20" stroke-width="1.5" stroke-linejoin="miter"/>
<path d="M1216.55,956.70 L1223.75,956.70 L1220.15,950.95 Z" fill="none" stroke="#231f20" stroke-width="1.5" stroke-linejoin="miter"/>
<path d="M1262.55,949.20 L1271.15,957.60 M1271.15,949.20 L1262.55,957.60" stroke="#231f20" stroke-width="1.3" fill="none"/>
<path d="M1318.20,956.70 L1325.40,956.70 L1321.80,950.95 Z" fill="none" stroke="#231f20" stroke-width="1.5" stroke-linejoin="miter"/>
<path d="M1411.05,956.70 L1418.25,956.70 L1414.65,950.95 Z" fill="none" stroke="#231f20" stroke-width="1.5" stroke-linejoin="miter"/>
<path d="M494.90,983.65 L502.10,983.65 L498.50,977.90 Z" fill="none" stroke="#231f20" stroke-width="1.5" stroke-linejoin="miter"/>
<path d="M528.80,983.65 L536.00,983.65 L532.40,977.90 Z" fill="none" stroke="#231f20" stroke-width="1.5" stroke-linejoin="miter"/>
<path d="M562.70,983.65 L569.90,983.65 L566.30,977.90 Z" fill="none" stroke="#231f20" stroke-width="1.5" stroke-linejoin="miter"/>
<path d="M609.20,983.65 L616.40,983.65 L612.80,977.90 Z" fill="none" stroke="#231f20" stroke-width="1.5" stroke-linejoin="miter"/>
<path d="M668.40,983.65 L675.60,983.65 L672.00,977.90 Z" fill="none" stroke="#231f20" stroke-width="1.5" stroke-linejoin="miter"/>
<path d="M714.90,983.65 L722.10,983.65 L718.50,977.90 Z" fill="none" stroke="#231f20" stroke-width="1.5" stroke-linejoin="miter"/>
<path d="M748.70,983.65 L755.90,983.65 L752.30,977.90 Z" fill="none" stroke="#231f20" stroke-width="1.5" stroke-linejoin="miter"/>
<path d="M782.55,983.65 L789.75,983.65 L786.15,977.90 Z" fill="none" stroke="#231f20" stroke-width="1.5" stroke-linejoin="miter"/>
<path d="M816.45,983.65 L823.65,983.65 L820.05,977.90 Z" fill="none" stroke="#231f20" stroke-width="1.5" stroke-linejoin="miter"/>
<path d="M850.30,983.65 L857.50,983.65 L853.90,977.90 Z" fill="none" stroke="#231f20" stroke-width="1.5" stroke-linejoin="miter"/>
<path d="M884.10,983.65 L891.30,983.65 L887.70,977.90 Z" fill="none" stroke="#231f20" stroke-width="1.5" stroke-linejoin="miter"/>
<path d="M918.05,983.65 L925.25,983.65 L921.65,977.90 Z" fill="none" stroke="#231f20" stroke-width="1.5" stroke-linejoin="miter"/>
<path d="M952.05,983.65 L959.25,983.65 L955.65,977.90 Z" fill="none" stroke="#231f20" stroke-width="1.5" stroke-linejoin="miter"/>
<path d="M985.90,983.65 L993.10,983.65 L989.50,977.90 Z" fill="none" stroke="#231f20" stroke-width="1.5" stroke-linejoin="miter"/>
<path d="M1019.80,983.65 L1027.00,983.65 L1023.40,977.90 Z" fill="none" stroke="#231f20" stroke-width="1.5" stroke-linejoin="miter"/>
<path d="M1053.70,983.65 L1060.90,983.65 L1057.30,977.90 Z" fill="none" stroke="#231f20" stroke-width="1.5" stroke-linejoin="miter"/>
<path d="M1095.90,983.65 L1103.10,983.65 L1099.50,977.90 Z" fill="none" stroke="#231f20" stroke-width="1.5" stroke-linejoin="miter"/>
<path d="M1140.25,983.65 L1147.45,983.65 L1143.85,977.90 Z" fill="none" stroke="#231f20" stroke-width="1.5" stroke-linejoin="miter"/>
<path d="M1178.30,983.65 L1185.50,983.65 L1181.90,977.90 Z" fill="none" stroke="#231f20" stroke-width="1.5" stroke-linejoin="miter"/>
<path d="M1216.55,983.65 L1223.75,983.65 L1220.15,977.90 Z" fill="none" stroke="#231f20" stroke-width="1.5" stroke-linejoin="miter"/>
<path d="M1263.25,983.65 L1270.45,983.65 L1266.85,977.90 Z" fill="none" stroke="#231f20" stroke-width="1.5" stroke-linejoin="miter"/>
<path d="M1317.50,976.15 L1326.10,984.55 M1326.10,976.15 L1317.50,984.55" stroke="#231f20" stroke-width="1.3" fill="none"/>
<path d="M1411.05,983.65 L1418.25,983.65 L1414.65,977.90 Z" fill="none" stroke="#231f20" stroke-width="1.5" stroke-linejoin="miter"/>
<path d="M494.90,1023.20 L502.10,1023.20 L498.50,1017.45 Z" fill="none" stroke="#231f20" stroke-width="1.5" stroke-linejoin="miter"/>
<path d="M523.00,1023.20 L530.20,1023.20 L526.60,1017.45 Z" fill="none" stroke="#231f20" stroke-width="1.5" stroke-linejoin="miter"/>
<text transform="translate(531.40,1023.90)" font-size="12" text-anchor="start" fill="#231f20">*4</text>
<path d="M562.70,1023.20 L569.90,1023.20 L566.30,1017.45 Z" fill="none" stroke="#231f20" stroke-width="1.5" stroke-linejoin="miter"/>
<path d="M609.20,1023.20 L616.40,1023.20 L612.80,1017.45 Z" fill="none" stroke="#231f20" stroke-width="1.5" stroke-linejoin="miter"/>
<path d="M668.40,1023.20 L675.60,1023.20 L672.00,1017.45 Z" fill="none" stroke="#231f20" stroke-width="1.5" stroke-linejoin="miter"/>
<path d="M714.90,1023.20 L722.10,1023.20 L718.50,1017.45 Z" fill="none" stroke="#231f20" stroke-width="1.5" stroke-linejoin="miter"/>
<path d="M748.70,1023.20 L755.90,1023.20 L752.30,1017.45 Z" fill="none" stroke="#231f20" stroke-width="1.5" stroke-linejoin="miter"/>
<path d="M782.55,1023.20 L789.75,1023.20 L786.15,1017.45 Z" fill="none" stroke="#231f20" stroke-width="1.5" stroke-linejoin="miter"/>
<path d="M816.45,1023.20 L823.65,1023.20 L820.05,1017.45 Z" fill="none" stroke="#231f20" stroke-width="1.5" stroke-linejoin="miter"/>
<path d="M850.30,1023.20 L857.50,1023.20 L853.90,1017.45 Z" fill="none" stroke="#231f20" stroke-width="1.5" stroke-linejoin="miter"/>
<path d="M884.10,1017.00 L891.30,1017.00 L887.70,1011.25 Z" fill="none" stroke="#231f20" stroke-width="1.5" stroke-linejoin="miter"/>
<text transform="translate(887.70,1030.70)" font-size="12" text-anchor="middle" fill="#231f20">*10</text>
<path d="M918.05,1023.20 L925.25,1023.20 L921.65,1017.45 Z" fill="none" stroke="#231f20" stroke-width="1.5" stroke-linejoin="miter"/>
<path d="M952.05,1023.20 L959.25,1023.20 L955.65,1017.45 Z" fill="none" stroke="#231f20" stroke-width="1.5" stroke-linejoin="miter"/>
<path d="M985.90,1023.20 L993.10,1023.20 L989.50,1017.45 Z" fill="none" stroke="#231f20" stroke-width="1.5" stroke-linejoin="miter"/>
<path d="M1019.80,1023.20 L1027.00,1023.20 L1023.40,1017.45 Z" fill="none" stroke="#231f20" stroke-width="1.5" stroke-linejoin="miter"/>
<path d="M1053.70,1023.20 L1060.90,1023.20 L1057.30,1017.45 Z" fill="none" stroke="#231f20" stroke-width="1.5" stroke-linejoin="miter"/>
<path d="M1095.90,1023.20 L1103.10,1023.20 L1099.50,1017.45 Z" fill="none" stroke="#231f20" stroke-width="1.5" stroke-linejoin="miter"/>
<path d="M1140.25,1023.20 L1147.45,1023.20 L1143.85,1017.45 Z" fill="none" stroke="#231f20" stroke-width="1.5" stroke-linejoin="miter"/>
<path d="M1178.30,1023.20 L1185.50,1023.20 L1181.90,1017.45 Z" fill="none" stroke="#231f20" stroke-width="1.5" stroke-linejoin="miter"/>
<path d="M1216.55,1023.20 L1223.75,1023.20 L1220.15,1017.45 Z" fill="none" stroke="#231f20" stroke-width="1.5" stroke-linejoin="miter"/>
<path d="M1263.25,1023.20 L1270.45,1023.20 L1266.85,1017.45 Z" fill="none" stroke="#231f20" stroke-width="1.5" stroke-linejoin="miter"/>
<path d="M1318.20,1023.20 L1325.40,1023.20 L1321.80,1017.45 Z" fill="none" stroke="#231f20" stroke-width="1.5" stroke-linejoin="miter"/>
<path d="M1411.05,1023.20 L1418.25,1023.20 L1414.65,1017.45 Z" fill="none" stroke="#231f20" stroke-width="1.5" stroke-linejoin="miter"/>
<text transform="translate(19.20,1065.00)" font-size="11" text-anchor="start" textLength="847.2" lengthAdjust="spacingAndGlyphs" fill="#231f20">*1 Egyidejü müveletvégzés csak azután lehetséges, hogy a megelözö munkák dokumentumainak mindegyikét beszkennelte, és megjelenik az [Új munka] gomb.</text>
<text transform="translate(19.20,1078.92)" font-size="11" text-anchor="start" textLength="677.3" lengthAdjust="spacingAndGlyphs" fill="#231f20">*2 Új dokumentum szkennelése csak akkor kezdhetö meg, ha a készülék már beolvasta az elözö munka összes dokumentumát.</text>
<text transform="translate(19.20,1092.84)" font-size="11" text-anchor="start" textLength="381.8" lengthAdjust="spacingAndGlyphs" fill="#231f20">*3 Egyidejü müveletekre akkor van lehetöség, ha másik vonalat használ.</text>
<text transform="translate(19.20,1106.76)" font-size="11" text-anchor="start" textLength="526.3" lengthAdjust="spacingAndGlyphs" fill="#231f20">*4 Tüzés esetén a nyomtatás az aktuális munka befejezödését követöen automatikusan elkezdödik.</text>
<text transform="translate(19.20,1120.68)" font-size="11" text-anchor="start" textLength="169.4" lengthAdjust="spacingAndGlyphs" fill="#231f20">*5 Tüzés nem áll rendelkezésre.</text>
<text transform="translate(19.20,1134.60)" font-size="11" text-anchor="start" textLength="377.1" lengthAdjust="spacingAndGlyphs" fill="#231f20">*6 Egyidejü müvelet az [Új munka] gomb megnyomása után végezhetö.</text>
<text transform="translate(19.20,1148.52)" font-size="11" text-anchor="start" textLength="699.6" lengthAdjust="spacingAndGlyphs" fill="#231f20">*7 Párhuzamos vétel közben, bármilyen soron következö feladat mindaddig felfüggesztésre kerül, amíg a vételek nem fejezödtek be.</text>
<text transform="translate(19.20,1162.44)" font-size="11" text-anchor="start" textLength="961.4" lengthAdjust="spacingAndGlyphs" fill="#231f20">*8 Ha manuálisan kisérel meg kinyomtatni egy fogadott dokumentumot, miközben automatikusan nyomtat egy másik fogadott dokumentumot, elöször a manuális nyomtatás készül el.</text>
<text transform="translate(19.20,1176.36)" font-size="11" text-anchor="start" textLength="492.1" lengthAdjust="spacingAndGlyphs" fill="#231f20">*9 Ez magában foglalja a LAN-Fax illesztöprogramon keresztül küldött adatok nyomtatását is.</text>
<text transform="translate(19.20,1190.28)" font-size="11" text-anchor="start" textLength="1400.6" lengthAdjust="spacingAndGlyphs" fill="#231f20">*10 Ha a korábbi nyomtatási feladat LAN-Fax illesztöprogramól történö nyomtatáskor nem ér véget a memóriában tárolt olyan dokumentumok újranyomtatási ideje alatt, amelyek nem nyomtathatók ki a LAN-Fax illesztöprogram használatával, akkor a nyomtatás leáll.</text>
<text transform="translate(1498.60,1223.00) scale(0.8800,1)" font-size="7.2" text-anchor="start" fill="#555555">DRC802</text>
</svg>
</body></html>
